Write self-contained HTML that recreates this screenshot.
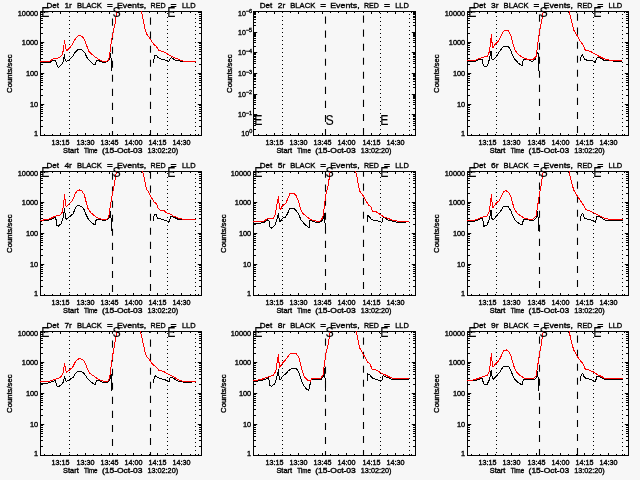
<!DOCTYPE html>
<html><head><meta charset="utf-8"><title>Detector count rates</title>
<style>html,body{margin:0;padding:0;background:#f7f7f7;overflow:hidden}svg{display:block}text{fill:#000}</style>
</head><body>
<svg width="640" height="480" viewBox="0 0 640 480">
<rect width="640" height="480" fill="#f7f7f7"/>
<g>
<rect x="40.5" y="11.5" width="161" height="124" fill="none" stroke="#000" stroke-width="1"/>
<path d="M44.5 135.5v-1.5M44.5 11.5v1.5M52.5 135.5v-1.5M52.5 11.5v1.5M60.5 135.5v-2.5M60.5 11.5v2.5M69.5 135.5v-1.5M69.5 11.5v1.5M77.5 135.5v-1.5M77.5 11.5v1.5M85.5 135.5v-2.5M85.5 11.5v2.5M93.5 135.5v-1.5M93.5 11.5v1.5M101.5 135.5v-1.5M101.5 11.5v1.5M109.5 135.5v-2.5M109.5 11.5v2.5M117.5 135.5v-1.5M117.5 11.5v1.5M125.5 135.5v-1.5M125.5 11.5v1.5M133.5 135.5v-2.5M133.5 11.5v2.5M141.5 135.5v-1.5M141.5 11.5v1.5M149.5 135.5v-1.5M149.5 11.5v1.5M157.5 135.5v-2.5M157.5 11.5v2.5M165.5 135.5v-1.5M165.5 11.5v1.5M173.5 135.5v-1.5M173.5 11.5v1.5M181.5 135.5v-2.5M181.5 11.5v2.5M190.5 135.5v-1.5M190.5 11.5v1.5M198.5 135.5v-1.5M198.5 11.5v1.5M40.5 33.5h2.5M201.5 33.5h-2.5M40.5 27.5h2.5M201.5 27.5h-2.5M40.5 23.5h2.5M201.5 23.5h-2.5M40.5 20.5h2.5M201.5 20.5h-2.5M40.5 18.5h2.5M201.5 18.5h-2.5M40.5 16.5h2.5M201.5 16.5h-2.5M40.5 14.5h2.5M201.5 14.5h-2.5M40.5 12.5h2.5M201.5 12.5h-2.5M40.5 42.5h3.7M201.5 42.5h-3.7M40.5 64.5h2.5M201.5 64.5h-2.5M40.5 58.5h2.5M201.5 58.5h-2.5M40.5 54.5h2.5M201.5 54.5h-2.5M40.5 51.5h2.5M201.5 51.5h-2.5M40.5 49.5h2.5M201.5 49.5h-2.5M40.5 47.5h2.5M201.5 47.5h-2.5M40.5 45.5h2.5M201.5 45.5h-2.5M40.5 43.5h2.5M201.5 43.5h-2.5M40.5 73.5h3.7M201.5 73.5h-3.7M40.5 95.5h2.5M201.5 95.5h-2.5M40.5 89.5h2.5M201.5 89.5h-2.5M40.5 85.5h2.5M201.5 85.5h-2.5M40.5 82.5h2.5M201.5 82.5h-2.5M40.5 80.5h2.5M201.5 80.5h-2.5M40.5 78.5h2.5M201.5 78.5h-2.5M40.5 76.5h2.5M201.5 76.5h-2.5M40.5 74.5h2.5M201.5 74.5h-2.5M40.5 104.5h3.7M201.5 104.5h-3.7M40.5 126.5h2.5M201.5 126.5h-2.5M40.5 120.5h2.5M201.5 120.5h-2.5M40.5 116.5h2.5M201.5 116.5h-2.5M40.5 113.5h2.5M201.5 113.5h-2.5M40.5 111.5h2.5M201.5 111.5h-2.5M40.5 109.5h2.5M201.5 109.5h-2.5M40.5 107.5h2.5M201.5 107.5h-2.5M40.5 105.5h2.5M201.5 105.5h-2.5" stroke="#000" stroke-width="1" fill="none"/>
<line x1="112.5" y1="135.5" x2="112.5" y2="11.5" stroke="#000" stroke-width="1.1" stroke-dasharray="7.1 6.95" stroke-dashoffset="2.55"/>
<line x1="150.5" y1="135.5" x2="150.5" y2="11.5" stroke="#000" stroke-width="1.1" stroke-dasharray="7.1 6.95" stroke-dashoffset="1.55"/>
<line x1="69.5" y1="135.5" x2="69.5" y2="11.5" stroke="#000" stroke-width="1" stroke-dasharray="1 3" stroke-dashoffset="1.5"/>
<line x1="167.5" y1="135.5" x2="167.5" y2="11.5" stroke="#000" stroke-width="1" stroke-dasharray="1 3" stroke-dashoffset="2.5"/>
<line x1="195.5" y1="135.5" x2="195.5" y2="11.5" stroke="#000" stroke-width="1" stroke-dasharray="1 3" stroke-dashoffset="3.5"/>
<polyline points="40,62.75 50,62.5 52.5,60.6 55.6,60 56.25,62.5 57.5,66.9 58.75,67.5 61.25,65 63.1,61.9 64.4,54.4 65,59.4 66.25,61.25 68.75,60 71.9,57.5 75,52.5 77.5,50 80,49.4 82.5,50.25 85,53.1 86.9,57.5 89.4,60.6 92.5,63.5 95,65 96.25,61.25 98.1,60 100,61.5 102.5,62.25 107.5,61.9 109.4,59.4 110.6,53.75 111.25,60 111.5,71" fill="none" stroke="#000" stroke-width="1" stroke-linejoin="round" shape-rendering="crispEdges"/>
<polyline points="153.1,62.5 154,58.75 154.75,55.25 156.25,55.25 158.1,57.5 161.25,59 166.25,60.4 168.75,61.5 170,58.75 171.5,57.25 173.1,58.75 175,60 179.4,60.25 181.9,61.9 195.6,61.9" fill="none" stroke="#000" stroke-width="1" stroke-linejoin="round" shape-rendering="crispEdges"/>
<polyline points="40,61.25 50,61.25 52.5,59.4 53.75,58.1 56.25,58.75 60,57.25 62.5,54.4 63.75,47.5 64.4,40 65,43.75 66.25,50.6 67.5,50 70,47.5 72.5,44.4 75,39.4 77.5,36.25 80,35.25 82.5,36.9 85,40.6 86.9,46.25 88.75,51.25 91.25,53.75 95,56.9 98.75,59.4 102.5,61.25 106.25,61.5 108.75,60 110,52.5 111.25,42.5 113.1,32.5 115,23.75 116.5,13.75 117.25,11.25" fill="none" stroke="#f00" stroke-width="1" stroke-linejoin="round" shape-rendering="crispEdges"/>
<polyline points="141.25,11.25 142.5,16.25 143.75,22.5 145,28.75 146.9,34.4 148.75,36.9 151.25,40.6 153.75,44.4 156.25,46.25 158.75,50.25 163.75,51.9 167.5,54 171.25,56.25 175,58.1 178.75,59.4 182.5,61 195.6,61.25" fill="none" stroke="#f00" stroke-width="1" stroke-linejoin="round" shape-rendering="crispEdges"/>
<text x="41.2" y="16.65" font-family="Liberation Sans, Arial, sans-serif" font-size="14.6" textLength="8.2" lengthAdjust="spacingAndGlyphs" fill="#000" stroke="#000" stroke-width="0.1">E</text>
<text x="112.5" y="16.65" font-family="Liberation Sans, Arial, sans-serif" font-size="14.6" textLength="8.2" lengthAdjust="spacingAndGlyphs" fill="#000" stroke="#000" stroke-width="0.1">S</text>
<text x="167.2" y="16.65" font-family="Liberation Sans, Arial, sans-serif" font-size="14.6" textLength="8.2" lengthAdjust="spacingAndGlyphs" fill="#000" stroke="#000" stroke-width="0.1">E</text>
<text y="7.6" font-family="Liberation Sans, Arial, sans-serif" font-size="8.1" stroke="#000" stroke-width="0.35"><tspan x="46.5" textLength="12.5" lengthAdjust="spacingAndGlyphs">Det</tspan> <tspan x="64.4" textLength="7.5" lengthAdjust="spacingAndGlyphs">1r</tspan> <tspan x="76.9" textLength="25" lengthAdjust="spacingAndGlyphs">BLACK</tspan> <tspan x="106.9" textLength="5.8" lengthAdjust="spacingAndGlyphs">=</tspan> <tspan x="116.9" textLength="29.4" lengthAdjust="spacingAndGlyphs">Events,</tspan> <tspan x="150.6" textLength="15" lengthAdjust="spacingAndGlyphs">RED</tspan> <tspan x="170.6" textLength="6.1" lengthAdjust="spacingAndGlyphs">=</tspan> <tspan x="181.9" textLength="13.7" lengthAdjust="spacingAndGlyphs">LLD</tspan></text>
<text x="60.5" y="145" font-family="Liberation Sans, Arial, sans-serif" font-size="7" text-anchor="middle" textLength="18" lengthAdjust="spacingAndGlyphs" stroke="#000" stroke-width="0.35">13:15</text>
<text x="85.5" y="145" font-family="Liberation Sans, Arial, sans-serif" font-size="7" text-anchor="middle" textLength="18" lengthAdjust="spacingAndGlyphs" stroke="#000" stroke-width="0.35">13:30</text>
<text x="109.5" y="145" font-family="Liberation Sans, Arial, sans-serif" font-size="7" text-anchor="middle" textLength="18" lengthAdjust="spacingAndGlyphs" stroke="#000" stroke-width="0.35">13:45</text>
<text x="133.5" y="145" font-family="Liberation Sans, Arial, sans-serif" font-size="7" text-anchor="middle" textLength="18" lengthAdjust="spacingAndGlyphs" stroke="#000" stroke-width="0.35">14:00</text>
<text x="157.5" y="145" font-family="Liberation Sans, Arial, sans-serif" font-size="7" text-anchor="middle" textLength="18" lengthAdjust="spacingAndGlyphs" stroke="#000" stroke-width="0.35">14:15</text>
<text x="181.5" y="145" font-family="Liberation Sans, Arial, sans-serif" font-size="7" text-anchor="middle" textLength="18" lengthAdjust="spacingAndGlyphs" stroke="#000" stroke-width="0.35">14:30</text>
<text y="152.8" font-family="Liberation Sans, Arial, sans-serif" font-size="7" stroke="#000" stroke-width="0.35"><tspan x="63.1" textLength="15.6" lengthAdjust="spacingAndGlyphs">Start</tspan> <tspan x="84" textLength="13.5" lengthAdjust="spacingAndGlyphs">Time</tspan> <tspan x="101.9" textLength="40.6" lengthAdjust="spacingAndGlyphs">(15-Oct-03</tspan> <tspan x="147.5" textLength="30.6" lengthAdjust="spacingAndGlyphs">13:02:20)</tspan></text>
<text x="38.2" y="16.1" font-family="Liberation Sans, Arial, sans-serif" font-size="7" text-anchor="end" textLength="20.5" lengthAdjust="spacingAndGlyphs" stroke="#000" stroke-width="0.35">10000</text>
<text x="38.2" y="44.9" font-family="Liberation Sans, Arial, sans-serif" font-size="7" text-anchor="end" textLength="16.4" lengthAdjust="spacingAndGlyphs" stroke="#000" stroke-width="0.35">1000</text>
<text x="38.2" y="75.9" font-family="Liberation Sans, Arial, sans-serif" font-size="7" text-anchor="end" textLength="12.3" lengthAdjust="spacingAndGlyphs" stroke="#000" stroke-width="0.35">100</text>
<text x="38.2" y="106.9" font-family="Liberation Sans, Arial, sans-serif" font-size="7" text-anchor="end" textLength="8.2" lengthAdjust="spacingAndGlyphs" stroke="#000" stroke-width="0.35">10</text>
<text x="38.2" y="136" font-family="Liberation Sans, Arial, sans-serif" font-size="7" text-anchor="end" textLength="4.1" lengthAdjust="spacingAndGlyphs" stroke="#000" stroke-width="0.35">1</text>
<text transform="translate(12.4 73.7) rotate(-90)" font-family="Liberation Sans, Arial, sans-serif" font-size="7" text-anchor="middle" textLength="38.4" lengthAdjust="spacingAndGlyphs" stroke="#000" stroke-width="0.35">Counts/sec</text>
</g>
<g>
<rect x="253.5" y="11.5" width="162" height="124" fill="none" stroke="#000" stroke-width="1"/>
<path d="M258.5 135.5v-1.5M258.5 11.5v1.5M266.5 135.5v-1.5M266.5 11.5v1.5M274.5 135.5v-2.5M274.5 11.5v2.5M282.5 135.5v-1.5M282.5 11.5v1.5M290.5 135.5v-1.5M290.5 11.5v1.5M298.5 135.5v-2.5M298.5 11.5v2.5M306.5 135.5v-1.5M306.5 11.5v1.5M314.5 135.5v-1.5M314.5 11.5v1.5M322.5 135.5v-2.5M322.5 11.5v2.5M330.5 135.5v-1.5M330.5 11.5v1.5M338.5 135.5v-1.5M338.5 11.5v1.5M346.5 135.5v-2.5M346.5 11.5v2.5M354.5 135.5v-1.5M354.5 11.5v1.5M363.5 135.5v-1.5M363.5 11.5v1.5M371.5 135.5v-2.5M371.5 11.5v2.5M379.5 135.5v-1.5M379.5 11.5v1.5M387.5 135.5v-1.5M387.5 11.5v1.5M395.5 135.5v-2.5M395.5 11.5v2.5M403.5 135.5v-1.5M403.5 11.5v1.5M411.5 135.5v-1.5M411.5 11.5v1.5M253.5 25.5h2.5M415.5 25.5h-2.5M253.5 22.5h2.5M415.5 22.5h-2.5M253.5 19.5h2.5M415.5 19.5h-2.5M253.5 17.5h2.5M415.5 17.5h-2.5M253.5 16.5h2.5M415.5 16.5h-2.5M253.5 14.5h2.5M415.5 14.5h-2.5M253.5 13.5h2.5M415.5 13.5h-2.5M253.5 12.5h2.5M415.5 12.5h-2.5M253.5 32.5h3.7M415.5 32.5h-3.7M253.5 46.5h2.5M415.5 46.5h-2.5M253.5 42.5h2.5M415.5 42.5h-2.5M253.5 40.5h2.5M415.5 40.5h-2.5M253.5 38.5h2.5M415.5 38.5h-2.5M253.5 36.5h2.5M415.5 36.5h-2.5M253.5 35.5h2.5M415.5 35.5h-2.5M253.5 34.5h2.5M415.5 34.5h-2.5M253.5 33.5h2.5M415.5 33.5h-2.5M253.5 52.5h3.7M415.5 52.5h-3.7M253.5 67.5h2.5M415.5 67.5h-2.5M253.5 63.5h2.5M415.5 63.5h-2.5M253.5 61.5h2.5M415.5 61.5h-2.5M253.5 59.5h2.5M415.5 59.5h-2.5M253.5 57.5h2.5M415.5 57.5h-2.5M253.5 56.5h2.5M415.5 56.5h-2.5M253.5 54.5h2.5M415.5 54.5h-2.5M253.5 53.5h2.5M415.5 53.5h-2.5M253.5 73.5h3.7M415.5 73.5h-3.7M253.5 87.5h2.5M415.5 87.5h-2.5M253.5 84.5h2.5M415.5 84.5h-2.5M253.5 81.5h2.5M415.5 81.5h-2.5M253.5 79.5h2.5M415.5 79.5h-2.5M253.5 78.5h2.5M415.5 78.5h-2.5M253.5 76.5h2.5M415.5 76.5h-2.5M253.5 75.5h2.5M415.5 75.5h-2.5M253.5 74.5h2.5M415.5 74.5h-2.5M253.5 94.5h3.7M415.5 94.5h-3.7M253.5 108.5h2.5M415.5 108.5h-2.5M253.5 104.5h2.5M415.5 104.5h-2.5M253.5 102.5h2.5M415.5 102.5h-2.5M253.5 100.5h2.5M415.5 100.5h-2.5M253.5 98.5h2.5M415.5 98.5h-2.5M253.5 97.5h2.5M415.5 97.5h-2.5M253.5 96.5h2.5M415.5 96.5h-2.5M253.5 95.5h2.5M415.5 95.5h-2.5M253.5 114.5h3.7M415.5 114.5h-3.7M253.5 129.5h2.5M415.5 129.5h-2.5M253.5 125.5h2.5M415.5 125.5h-2.5M253.5 123.5h2.5M415.5 123.5h-2.5M253.5 121.5h2.5M415.5 121.5h-2.5M253.5 119.5h2.5M415.5 119.5h-2.5M253.5 118.5h2.5M415.5 118.5h-2.5M253.5 116.5h2.5M415.5 116.5h-2.5M253.5 115.5h2.5M415.5 115.5h-2.5" stroke="#000" stroke-width="1" fill="none"/>
<line x1="325.5" y1="135.5" x2="325.5" y2="11.5" stroke="#000" stroke-width="1.1" stroke-dasharray="7.1 6.95" stroke-dashoffset="0.55"/>
<line x1="363.5" y1="135.5" x2="363.5" y2="11.5" stroke="#000" stroke-width="1.1" stroke-dasharray="7.1 6.95" stroke-dashoffset="13.6"/>
<line x1="282.5" y1="135.5" x2="282.5" y2="11.5" stroke="#000" stroke-width="1" stroke-dasharray="1 3" stroke-dashoffset="1.5"/>
<line x1="380.5" y1="135.5" x2="380.5" y2="11.5" stroke="#000" stroke-width="1" stroke-dasharray="1 3" stroke-dashoffset="2.5"/>
<line x1="409.5" y1="135.5" x2="409.5" y2="11.5" stroke="#000" stroke-width="1" stroke-dasharray="1 3" stroke-dashoffset="3.5"/>
<text x="254.2" y="124.65" font-family="Liberation Sans, Arial, sans-serif" font-size="14.6" textLength="8.2" lengthAdjust="spacingAndGlyphs" fill="#000" stroke="#000" stroke-width="0.1">E</text>
<text x="325.5" y="124.65" font-family="Liberation Sans, Arial, sans-serif" font-size="14.6" textLength="8.2" lengthAdjust="spacingAndGlyphs" fill="#000" stroke="#000" stroke-width="0.1">S</text>
<text x="380.2" y="124.65" font-family="Liberation Sans, Arial, sans-serif" font-size="14.6" textLength="8.2" lengthAdjust="spacingAndGlyphs" fill="#000" stroke="#000" stroke-width="0.1">E</text>
<text y="7.6" font-family="Liberation Sans, Arial, sans-serif" font-size="8.1" stroke="#000" stroke-width="0.35"><tspan x="259.83" textLength="12.5" lengthAdjust="spacingAndGlyphs">Det</tspan> <tspan x="277.73" textLength="7.5" lengthAdjust="spacingAndGlyphs">2r</tspan> <tspan x="290.23" textLength="25" lengthAdjust="spacingAndGlyphs">BLACK</tspan> <tspan x="320.23" textLength="5.8" lengthAdjust="spacingAndGlyphs">=</tspan> <tspan x="330.23" textLength="29.4" lengthAdjust="spacingAndGlyphs">Events,</tspan> <tspan x="363.93" textLength="15" lengthAdjust="spacingAndGlyphs">RED</tspan> <tspan x="383.93" textLength="6.1" lengthAdjust="spacingAndGlyphs">=</tspan> <tspan x="395.23" textLength="13.7" lengthAdjust="spacingAndGlyphs">LLD</tspan></text>
<text x="274.5" y="145" font-family="Liberation Sans, Arial, sans-serif" font-size="7" text-anchor="middle" textLength="18" lengthAdjust="spacingAndGlyphs" stroke="#000" stroke-width="0.35">13:15</text>
<text x="298.5" y="145" font-family="Liberation Sans, Arial, sans-serif" font-size="7" text-anchor="middle" textLength="18" lengthAdjust="spacingAndGlyphs" stroke="#000" stroke-width="0.35">13:30</text>
<text x="322.5" y="145" font-family="Liberation Sans, Arial, sans-serif" font-size="7" text-anchor="middle" textLength="18" lengthAdjust="spacingAndGlyphs" stroke="#000" stroke-width="0.35">13:45</text>
<text x="346.5" y="145" font-family="Liberation Sans, Arial, sans-serif" font-size="7" text-anchor="middle" textLength="18" lengthAdjust="spacingAndGlyphs" stroke="#000" stroke-width="0.35">14:00</text>
<text x="371.5" y="145" font-family="Liberation Sans, Arial, sans-serif" font-size="7" text-anchor="middle" textLength="18" lengthAdjust="spacingAndGlyphs" stroke="#000" stroke-width="0.35">14:15</text>
<text x="395.5" y="145" font-family="Liberation Sans, Arial, sans-serif" font-size="7" text-anchor="middle" textLength="18" lengthAdjust="spacingAndGlyphs" stroke="#000" stroke-width="0.35">14:30</text>
<text y="152.8" font-family="Liberation Sans, Arial, sans-serif" font-size="7" stroke="#000" stroke-width="0.35"><tspan x="276.43" textLength="15.6" lengthAdjust="spacingAndGlyphs">Start</tspan> <tspan x="297.33" textLength="13.5" lengthAdjust="spacingAndGlyphs">Time</tspan> <tspan x="315.23" textLength="40.6" lengthAdjust="spacingAndGlyphs">(15-Oct-03</tspan> <tspan x="360.83" textLength="30.6" lengthAdjust="spacingAndGlyphs">13:02:20)</tspan></text>
<text x="252.2" y="15.9" font-family="Liberation Sans, Arial, sans-serif" font-size="7" text-anchor="end" stroke="#000" stroke-width="0.35">10<tspan dy="-2.6" font-size="5.5">−6</tspan></text>
<text x="252.2" y="34.77" font-family="Liberation Sans, Arial, sans-serif" font-size="7" text-anchor="end" stroke="#000" stroke-width="0.35">10<tspan dy="-2.6" font-size="5.5">−5</tspan></text>
<text x="252.2" y="55.43" font-family="Liberation Sans, Arial, sans-serif" font-size="7" text-anchor="end" stroke="#000" stroke-width="0.35">10<tspan dy="-2.6" font-size="5.5">−4</tspan></text>
<text x="252.2" y="76.1" font-family="Liberation Sans, Arial, sans-serif" font-size="7" text-anchor="end" stroke="#000" stroke-width="0.35">10<tspan dy="-2.6" font-size="5.5">−3</tspan></text>
<text x="252.2" y="96.77" font-family="Liberation Sans, Arial, sans-serif" font-size="7" text-anchor="end" stroke="#000" stroke-width="0.35">10<tspan dy="-2.6" font-size="5.5">−2</tspan></text>
<text x="252.2" y="117.43" font-family="Liberation Sans, Arial, sans-serif" font-size="7" text-anchor="end" stroke="#000" stroke-width="0.35">10<tspan dy="-2.6" font-size="5.5">−1</tspan></text>
<text x="252.2" y="136" font-family="Liberation Sans, Arial, sans-serif" font-size="7" text-anchor="end" stroke="#000" stroke-width="0.35">10<tspan dy="-2.6" font-size="5.5">0</tspan></text>
<text transform="translate(232.43 73.7) rotate(-90)" font-family="Liberation Sans, Arial, sans-serif" font-size="7" text-anchor="middle" textLength="38.4" lengthAdjust="spacingAndGlyphs" stroke="#000" stroke-width="0.35">Counts/sec</text>
</g>
<g>
<rect x="467.5" y="11.5" width="161" height="124" fill="none" stroke="#000" stroke-width="1"/>
<path d="M471.5 135.5v-1.5M471.5 11.5v1.5M479.5 135.5v-1.5M479.5 11.5v1.5M487.5 135.5v-2.5M487.5 11.5v2.5M495.5 135.5v-1.5M495.5 11.5v1.5M503.5 135.5v-1.5M503.5 11.5v1.5M511.5 135.5v-2.5M511.5 11.5v2.5M519.5 135.5v-1.5M519.5 11.5v1.5M527.5 135.5v-1.5M527.5 11.5v1.5M536.5 135.5v-2.5M536.5 11.5v2.5M544.5 135.5v-1.5M544.5 11.5v1.5M552.5 135.5v-1.5M552.5 11.5v1.5M560.5 135.5v-2.5M560.5 11.5v2.5M568.5 135.5v-1.5M568.5 11.5v1.5M576.5 135.5v-1.5M576.5 11.5v1.5M584.5 135.5v-2.5M584.5 11.5v2.5M592.5 135.5v-1.5M592.5 11.5v1.5M600.5 135.5v-1.5M600.5 11.5v1.5M608.5 135.5v-2.5M608.5 11.5v2.5M616.5 135.5v-1.5M616.5 11.5v1.5M624.5 135.5v-1.5M624.5 11.5v1.5M467.5 33.5h2.5M628.5 33.5h-2.5M467.5 27.5h2.5M628.5 27.5h-2.5M467.5 23.5h2.5M628.5 23.5h-2.5M467.5 20.5h2.5M628.5 20.5h-2.5M467.5 18.5h2.5M628.5 18.5h-2.5M467.5 16.5h2.5M628.5 16.5h-2.5M467.5 14.5h2.5M628.5 14.5h-2.5M467.5 12.5h2.5M628.5 12.5h-2.5M467.5 42.5h3.7M628.5 42.5h-3.7M467.5 64.5h2.5M628.5 64.5h-2.5M467.5 58.5h2.5M628.5 58.5h-2.5M467.5 54.5h2.5M628.5 54.5h-2.5M467.5 51.5h2.5M628.5 51.5h-2.5M467.5 49.5h2.5M628.5 49.5h-2.5M467.5 47.5h2.5M628.5 47.5h-2.5M467.5 45.5h2.5M628.5 45.5h-2.5M467.5 43.5h2.5M628.5 43.5h-2.5M467.5 73.5h3.7M628.5 73.5h-3.7M467.5 95.5h2.5M628.5 95.5h-2.5M467.5 89.5h2.5M628.5 89.5h-2.5M467.5 85.5h2.5M628.5 85.5h-2.5M467.5 82.5h2.5M628.5 82.5h-2.5M467.5 80.5h2.5M628.5 80.5h-2.5M467.5 78.5h2.5M628.5 78.5h-2.5M467.5 76.5h2.5M628.5 76.5h-2.5M467.5 74.5h2.5M628.5 74.5h-2.5M467.5 104.5h3.7M628.5 104.5h-3.7M467.5 126.5h2.5M628.5 126.5h-2.5M467.5 120.5h2.5M628.5 120.5h-2.5M467.5 116.5h2.5M628.5 116.5h-2.5M467.5 113.5h2.5M628.5 113.5h-2.5M467.5 111.5h2.5M628.5 111.5h-2.5M467.5 109.5h2.5M628.5 109.5h-2.5M467.5 107.5h2.5M628.5 107.5h-2.5M467.5 105.5h2.5M628.5 105.5h-2.5" stroke="#000" stroke-width="1" fill="none"/>
<line x1="539.5" y1="135.5" x2="539.5" y2="11.5" stroke="#000" stroke-width="1.1" stroke-dasharray="7.1 6.95" stroke-dashoffset="12.6"/>
<line x1="577.5" y1="135.5" x2="577.5" y2="11.5" stroke="#000" stroke-width="1.1" stroke-dasharray="7.1 6.95" stroke-dashoffset="11.6"/>
<line x1="496.5" y1="135.5" x2="496.5" y2="11.5" stroke="#000" stroke-width="1" stroke-dasharray="1 3" stroke-dashoffset="1.5"/>
<line x1="593.5" y1="135.5" x2="593.5" y2="11.5" stroke="#000" stroke-width="1" stroke-dasharray="1 3" stroke-dashoffset="2.5"/>
<line x1="622.5" y1="135.5" x2="622.5" y2="11.5" stroke="#000" stroke-width="1" stroke-dasharray="1 3" stroke-dashoffset="3.5"/>
<polyline points="467,61.5 475.75,61.25 478.25,59.75 482,59.4 483,63.75 484.5,66.9 487.6,65.6 489.5,58.75 491,51.25 492,58.75 493.25,60 497,55.6 500.1,50.6 503.25,46.5 508.25,46.25 510.75,50 512.6,55.6 514.5,58.75 518.25,63.1 522,65.6 523.25,60 527,59.4 529.5,60 532,61.5 535.1,59.4 537,54.4 538,52.5 538.5,60 538.9,71" fill="none" stroke="#000" stroke-width="1" stroke-linejoin="round" shape-rendering="crispEdges"/>
<polyline points="580.25,61.25 581.25,55.6 582.5,54.75 584.6,59.4 587.75,60.4 592.75,61 595.25,62.5 596.5,58.1 598.4,57.25 601.5,58.75 604,60.25 611.5,60.6 614,61.25 622.1,61.25" fill="none" stroke="#000" stroke-width="1" stroke-linejoin="round" shape-rendering="crispEdges"/>
<polyline points="467,60.6 474.5,60.6 478.25,59 483.25,57.25 487.6,56.25 489.5,51.25 490.5,42.5 491.4,34.4 492,42.5 493,47.5 495.1,44.4 498.25,41.25 500.75,36.9 503.25,31.25 505.75,30 508.25,30.6 510.75,35 512.6,42.5 514.5,48.75 517,53.1 520.75,56.25 524.5,58.5 529.5,59.75 533.25,59.4 536.4,56.25 537.6,45 539.5,31.25 541.4,22.5 542.6,15 543.5,11.25" fill="none" stroke="#f00" stroke-width="1" stroke-linejoin="round" shape-rendering="crispEdges"/>
<polyline points="569,11.25 570.25,16.25 572.1,23.75 574,30.6 577.1,35.6 580.25,41.25 582.75,44.4 585.25,50 590.25,51.25 594,53.5 599,56.25 604,58.75 609,60 622.1,60.6" fill="none" stroke="#f00" stroke-width="1" stroke-linejoin="round" shape-rendering="crispEdges"/>
<text x="468.2" y="16.65" font-family="Liberation Sans, Arial, sans-serif" font-size="14.6" textLength="8.2" lengthAdjust="spacingAndGlyphs" fill="#000" stroke="#000" stroke-width="0.1">E</text>
<text x="539.5" y="16.65" font-family="Liberation Sans, Arial, sans-serif" font-size="14.6" textLength="8.2" lengthAdjust="spacingAndGlyphs" fill="#000" stroke="#000" stroke-width="0.1">S</text>
<text x="593.2" y="16.65" font-family="Liberation Sans, Arial, sans-serif" font-size="14.6" textLength="8.2" lengthAdjust="spacingAndGlyphs" fill="#000" stroke="#000" stroke-width="0.1">E</text>
<text y="7.6" font-family="Liberation Sans, Arial, sans-serif" font-size="8.1" stroke="#000" stroke-width="0.35"><tspan x="473.17" textLength="12.5" lengthAdjust="spacingAndGlyphs">Det</tspan> <tspan x="491.07" textLength="7.5" lengthAdjust="spacingAndGlyphs">3r</tspan> <tspan x="503.57" textLength="25" lengthAdjust="spacingAndGlyphs">BLACK</tspan> <tspan x="533.57" textLength="5.8" lengthAdjust="spacingAndGlyphs">=</tspan> <tspan x="543.57" textLength="29.4" lengthAdjust="spacingAndGlyphs">Events,</tspan> <tspan x="577.27" textLength="15" lengthAdjust="spacingAndGlyphs">RED</tspan> <tspan x="597.27" textLength="6.1" lengthAdjust="spacingAndGlyphs">=</tspan> <tspan x="608.57" textLength="13.7" lengthAdjust="spacingAndGlyphs">LLD</tspan></text>
<text x="487.5" y="145" font-family="Liberation Sans, Arial, sans-serif" font-size="7" text-anchor="middle" textLength="18" lengthAdjust="spacingAndGlyphs" stroke="#000" stroke-width="0.35">13:15</text>
<text x="511.5" y="145" font-family="Liberation Sans, Arial, sans-serif" font-size="7" text-anchor="middle" textLength="18" lengthAdjust="spacingAndGlyphs" stroke="#000" stroke-width="0.35">13:30</text>
<text x="536.5" y="145" font-family="Liberation Sans, Arial, sans-serif" font-size="7" text-anchor="middle" textLength="18" lengthAdjust="spacingAndGlyphs" stroke="#000" stroke-width="0.35">13:45</text>
<text x="560.5" y="145" font-family="Liberation Sans, Arial, sans-serif" font-size="7" text-anchor="middle" textLength="18" lengthAdjust="spacingAndGlyphs" stroke="#000" stroke-width="0.35">14:00</text>
<text x="584.5" y="145" font-family="Liberation Sans, Arial, sans-serif" font-size="7" text-anchor="middle" textLength="18" lengthAdjust="spacingAndGlyphs" stroke="#000" stroke-width="0.35">14:15</text>
<text x="608.5" y="145" font-family="Liberation Sans, Arial, sans-serif" font-size="7" text-anchor="middle" textLength="18" lengthAdjust="spacingAndGlyphs" stroke="#000" stroke-width="0.35">14:30</text>
<text y="152.8" font-family="Liberation Sans, Arial, sans-serif" font-size="7" stroke="#000" stroke-width="0.35"><tspan x="489.77" textLength="15.6" lengthAdjust="spacingAndGlyphs">Start</tspan> <tspan x="510.67" textLength="13.5" lengthAdjust="spacingAndGlyphs">Time</tspan> <tspan x="528.57" textLength="40.6" lengthAdjust="spacingAndGlyphs">(15-Oct-03</tspan> <tspan x="574.17" textLength="30.6" lengthAdjust="spacingAndGlyphs">13:02:20)</tspan></text>
<text x="465.2" y="16.1" font-family="Liberation Sans, Arial, sans-serif" font-size="7" text-anchor="end" textLength="20.5" lengthAdjust="spacingAndGlyphs" stroke="#000" stroke-width="0.35">10000</text>
<text x="465.2" y="44.9" font-family="Liberation Sans, Arial, sans-serif" font-size="7" text-anchor="end" textLength="16.4" lengthAdjust="spacingAndGlyphs" stroke="#000" stroke-width="0.35">1000</text>
<text x="465.2" y="75.9" font-family="Liberation Sans, Arial, sans-serif" font-size="7" text-anchor="end" textLength="12.3" lengthAdjust="spacingAndGlyphs" stroke="#000" stroke-width="0.35">100</text>
<text x="465.2" y="106.9" font-family="Liberation Sans, Arial, sans-serif" font-size="7" text-anchor="end" textLength="8.2" lengthAdjust="spacingAndGlyphs" stroke="#000" stroke-width="0.35">10</text>
<text x="465.2" y="136" font-family="Liberation Sans, Arial, sans-serif" font-size="7" text-anchor="end" textLength="4.1" lengthAdjust="spacingAndGlyphs" stroke="#000" stroke-width="0.35">1</text>
<text transform="translate(439.07 73.7) rotate(-90)" font-family="Liberation Sans, Arial, sans-serif" font-size="7" text-anchor="middle" textLength="38.4" lengthAdjust="spacingAndGlyphs" stroke="#000" stroke-width="0.35">Counts/sec</text>
</g>
<g>
<rect x="40.5" y="171.5" width="161" height="124" fill="none" stroke="#000" stroke-width="1"/>
<path d="M44.5 295.5v-1.5M44.5 171.5v1.5M52.5 295.5v-1.5M52.5 171.5v1.5M60.5 295.5v-2.5M60.5 171.5v2.5M69.5 295.5v-1.5M69.5 171.5v1.5M77.5 295.5v-1.5M77.5 171.5v1.5M85.5 295.5v-2.5M85.5 171.5v2.5M93.5 295.5v-1.5M93.5 171.5v1.5M101.5 295.5v-1.5M101.5 171.5v1.5M109.5 295.5v-2.5M109.5 171.5v2.5M117.5 295.5v-1.5M117.5 171.5v1.5M125.5 295.5v-1.5M125.5 171.5v1.5M133.5 295.5v-2.5M133.5 171.5v2.5M141.5 295.5v-1.5M141.5 171.5v1.5M149.5 295.5v-1.5M149.5 171.5v1.5M157.5 295.5v-2.5M157.5 171.5v2.5M165.5 295.5v-1.5M165.5 171.5v1.5M173.5 295.5v-1.5M173.5 171.5v1.5M181.5 295.5v-2.5M181.5 171.5v2.5M190.5 295.5v-1.5M190.5 171.5v1.5M198.5 295.5v-1.5M198.5 171.5v1.5M40.5 193.5h2.5M201.5 193.5h-2.5M40.5 187.5h2.5M201.5 187.5h-2.5M40.5 183.5h2.5M201.5 183.5h-2.5M40.5 180.5h2.5M201.5 180.5h-2.5M40.5 178.5h2.5M201.5 178.5h-2.5M40.5 176.5h2.5M201.5 176.5h-2.5M40.5 174.5h2.5M201.5 174.5h-2.5M40.5 172.5h2.5M201.5 172.5h-2.5M40.5 202.5h3.7M201.5 202.5h-3.7M40.5 224.5h2.5M201.5 224.5h-2.5M40.5 218.5h2.5M201.5 218.5h-2.5M40.5 214.5h2.5M201.5 214.5h-2.5M40.5 211.5h2.5M201.5 211.5h-2.5M40.5 209.5h2.5M201.5 209.5h-2.5M40.5 207.5h2.5M201.5 207.5h-2.5M40.5 205.5h2.5M201.5 205.5h-2.5M40.5 203.5h2.5M201.5 203.5h-2.5M40.5 233.5h3.7M201.5 233.5h-3.7M40.5 255.5h2.5M201.5 255.5h-2.5M40.5 249.5h2.5M201.5 249.5h-2.5M40.5 245.5h2.5M201.5 245.5h-2.5M40.5 242.5h2.5M201.5 242.5h-2.5M40.5 240.5h2.5M201.5 240.5h-2.5M40.5 238.5h2.5M201.5 238.5h-2.5M40.5 236.5h2.5M201.5 236.5h-2.5M40.5 234.5h2.5M201.5 234.5h-2.5M40.5 264.5h3.7M201.5 264.5h-3.7M40.5 286.5h2.5M201.5 286.5h-2.5M40.5 280.5h2.5M201.5 280.5h-2.5M40.5 276.5h2.5M201.5 276.5h-2.5M40.5 273.5h2.5M201.5 273.5h-2.5M40.5 271.5h2.5M201.5 271.5h-2.5M40.5 269.5h2.5M201.5 269.5h-2.5M40.5 267.5h2.5M201.5 267.5h-2.5M40.5 265.5h2.5M201.5 265.5h-2.5" stroke="#000" stroke-width="1" fill="none"/>
<line x1="112.5" y1="295.5" x2="112.5" y2="171.5" stroke="#000" stroke-width="1.1" stroke-dasharray="7.1 6.95" stroke-dashoffset="10.6"/>
<line x1="150.5" y1="295.5" x2="150.5" y2="171.5" stroke="#000" stroke-width="1.1" stroke-dasharray="7.1 6.95" stroke-dashoffset="9.6"/>
<line x1="69.5" y1="295.5" x2="69.5" y2="171.5" stroke="#000" stroke-width="1" stroke-dasharray="1 3" stroke-dashoffset="1.5"/>
<line x1="167.5" y1="295.5" x2="167.5" y2="171.5" stroke="#000" stroke-width="1" stroke-dasharray="1 3" stroke-dashoffset="2.5"/>
<line x1="195.5" y1="295.5" x2="195.5" y2="171.5" stroke="#000" stroke-width="1" stroke-dasharray="1 3" stroke-dashoffset="3.5"/>
<polyline points="40,221.25 45,220.6 50.6,219.75 55,217.25 56,219.4 56.9,225.6 58.1,226.25 61.25,223.75 63.1,217.5 64.6,208.75 65.4,216.25 66.25,219.4 69.4,216.9 73.1,213.75 75.6,207.5 77.5,205.6 81.25,206.25 83.75,208.75 85.6,213.75 88.1,218.75 91.9,223.1 95,225 96.25,219.4 100,219.4 102.5,220.25 106.25,220 108.75,218.75 110.4,211.9 111.25,220 111.9,231" fill="none" stroke="#000" stroke-width="1" stroke-linejoin="round" shape-rendering="crispEdges"/>
<polyline points="153.25,221.25 154.25,215 156,214.4 157.6,218.1 162,219.4 166.4,220.6 168,222.25 169.5,221.25 170.5,216.5 172.6,216.9 175.75,218.1 179.5,220 195.75,219.75" fill="none" stroke="#000" stroke-width="1" stroke-linejoin="round" shape-rendering="crispEdges"/>
<polyline points="40,220.6 45,219.75 50,218.75 55,216.25 60,215 62.5,211.9 63.75,202.5 64.5,194.4 65.25,201.25 66.25,206.9 69.4,203.75 72.5,200.6 75,194.4 76.9,191 79.4,190 81.9,191 84.4,195 86.25,202.5 88.1,208.75 90.6,212.5 95,216.25 98.75,218.5 102.5,219.4 106.25,219.75 108.75,216.9 110.25,206.25 112.5,193.75 114.4,183.75 116,173.75 116.5,171.25" fill="none" stroke="#f00" stroke-width="1" stroke-linejoin="round" shape-rendering="crispEdges"/>
<polyline points="142.6,171.25 143.9,176.25 145.1,182.5 146.4,188.75 148.9,192.5 151.4,197.5 154.5,202.5 156.4,203.5 158.25,208.75 160.75,210.25 163.9,210.6 167,213.1 169.5,213.5 173.25,216 178.25,218.1 182,219 195.75,219" fill="none" stroke="#f00" stroke-width="1" stroke-linejoin="round" shape-rendering="crispEdges"/>
<text x="41.2" y="176.65" font-family="Liberation Sans, Arial, sans-serif" font-size="14.6" textLength="8.2" lengthAdjust="spacingAndGlyphs" fill="#000" stroke="#000" stroke-width="0.1">E</text>
<text x="112.5" y="176.65" font-family="Liberation Sans, Arial, sans-serif" font-size="14.6" textLength="8.2" lengthAdjust="spacingAndGlyphs" fill="#000" stroke="#000" stroke-width="0.1">S</text>
<text x="167.2" y="176.65" font-family="Liberation Sans, Arial, sans-serif" font-size="14.6" textLength="8.2" lengthAdjust="spacingAndGlyphs" fill="#000" stroke="#000" stroke-width="0.1">E</text>
<text y="167.6" font-family="Liberation Sans, Arial, sans-serif" font-size="8.1" stroke="#000" stroke-width="0.35"><tspan x="46.5" textLength="12.5" lengthAdjust="spacingAndGlyphs">Det</tspan> <tspan x="64.4" textLength="7.5" lengthAdjust="spacingAndGlyphs">4r</tspan> <tspan x="76.9" textLength="25" lengthAdjust="spacingAndGlyphs">BLACK</tspan> <tspan x="106.9" textLength="5.8" lengthAdjust="spacingAndGlyphs">=</tspan> <tspan x="116.9" textLength="29.4" lengthAdjust="spacingAndGlyphs">Events,</tspan> <tspan x="150.6" textLength="15" lengthAdjust="spacingAndGlyphs">RED</tspan> <tspan x="170.6" textLength="6.1" lengthAdjust="spacingAndGlyphs">=</tspan> <tspan x="181.9" textLength="13.7" lengthAdjust="spacingAndGlyphs">LLD</tspan></text>
<text x="60.5" y="305" font-family="Liberation Sans, Arial, sans-serif" font-size="7" text-anchor="middle" textLength="18" lengthAdjust="spacingAndGlyphs" stroke="#000" stroke-width="0.35">13:15</text>
<text x="85.5" y="305" font-family="Liberation Sans, Arial, sans-serif" font-size="7" text-anchor="middle" textLength="18" lengthAdjust="spacingAndGlyphs" stroke="#000" stroke-width="0.35">13:30</text>
<text x="109.5" y="305" font-family="Liberation Sans, Arial, sans-serif" font-size="7" text-anchor="middle" textLength="18" lengthAdjust="spacingAndGlyphs" stroke="#000" stroke-width="0.35">13:45</text>
<text x="133.5" y="305" font-family="Liberation Sans, Arial, sans-serif" font-size="7" text-anchor="middle" textLength="18" lengthAdjust="spacingAndGlyphs" stroke="#000" stroke-width="0.35">14:00</text>
<text x="157.5" y="305" font-family="Liberation Sans, Arial, sans-serif" font-size="7" text-anchor="middle" textLength="18" lengthAdjust="spacingAndGlyphs" stroke="#000" stroke-width="0.35">14:15</text>
<text x="181.5" y="305" font-family="Liberation Sans, Arial, sans-serif" font-size="7" text-anchor="middle" textLength="18" lengthAdjust="spacingAndGlyphs" stroke="#000" stroke-width="0.35">14:30</text>
<text y="312.8" font-family="Liberation Sans, Arial, sans-serif" font-size="7" stroke="#000" stroke-width="0.35"><tspan x="63.1" textLength="15.6" lengthAdjust="spacingAndGlyphs">Start</tspan> <tspan x="84" textLength="13.5" lengthAdjust="spacingAndGlyphs">Time</tspan> <tspan x="101.9" textLength="40.6" lengthAdjust="spacingAndGlyphs">(15-Oct-03</tspan> <tspan x="147.5" textLength="30.6" lengthAdjust="spacingAndGlyphs">13:02:20)</tspan></text>
<text x="38.2" y="176.1" font-family="Liberation Sans, Arial, sans-serif" font-size="7" text-anchor="end" textLength="20.5" lengthAdjust="spacingAndGlyphs" stroke="#000" stroke-width="0.35">10000</text>
<text x="38.2" y="204.9" font-family="Liberation Sans, Arial, sans-serif" font-size="7" text-anchor="end" textLength="16.4" lengthAdjust="spacingAndGlyphs" stroke="#000" stroke-width="0.35">1000</text>
<text x="38.2" y="235.9" font-family="Liberation Sans, Arial, sans-serif" font-size="7" text-anchor="end" textLength="12.3" lengthAdjust="spacingAndGlyphs" stroke="#000" stroke-width="0.35">100</text>
<text x="38.2" y="266.9" font-family="Liberation Sans, Arial, sans-serif" font-size="7" text-anchor="end" textLength="8.2" lengthAdjust="spacingAndGlyphs" stroke="#000" stroke-width="0.35">10</text>
<text x="38.2" y="296" font-family="Liberation Sans, Arial, sans-serif" font-size="7" text-anchor="end" textLength="4.1" lengthAdjust="spacingAndGlyphs" stroke="#000" stroke-width="0.35">1</text>
<text transform="translate(12.4 233.7) rotate(-90)" font-family="Liberation Sans, Arial, sans-serif" font-size="7" text-anchor="middle" textLength="38.4" lengthAdjust="spacingAndGlyphs" stroke="#000" stroke-width="0.35">Counts/sec</text>
</g>
<g>
<rect x="253.5" y="171.5" width="162" height="124" fill="none" stroke="#000" stroke-width="1"/>
<path d="M258.5 295.5v-1.5M258.5 171.5v1.5M266.5 295.5v-1.5M266.5 171.5v1.5M274.5 295.5v-2.5M274.5 171.5v2.5M282.5 295.5v-1.5M282.5 171.5v1.5M290.5 295.5v-1.5M290.5 171.5v1.5M298.5 295.5v-2.5M298.5 171.5v2.5M306.5 295.5v-1.5M306.5 171.5v1.5M314.5 295.5v-1.5M314.5 171.5v1.5M322.5 295.5v-2.5M322.5 171.5v2.5M330.5 295.5v-1.5M330.5 171.5v1.5M338.5 295.5v-1.5M338.5 171.5v1.5M346.5 295.5v-2.5M346.5 171.5v2.5M354.5 295.5v-1.5M354.5 171.5v1.5M363.5 295.5v-1.5M363.5 171.5v1.5M371.5 295.5v-2.5M371.5 171.5v2.5M379.5 295.5v-1.5M379.5 171.5v1.5M387.5 295.5v-1.5M387.5 171.5v1.5M395.5 295.5v-2.5M395.5 171.5v2.5M403.5 295.5v-1.5M403.5 171.5v1.5M411.5 295.5v-1.5M411.5 171.5v1.5M253.5 193.5h2.5M415.5 193.5h-2.5M253.5 187.5h2.5M415.5 187.5h-2.5M253.5 183.5h2.5M415.5 183.5h-2.5M253.5 180.5h2.5M415.5 180.5h-2.5M253.5 178.5h2.5M415.5 178.5h-2.5M253.5 176.5h2.5M415.5 176.5h-2.5M253.5 174.5h2.5M415.5 174.5h-2.5M253.5 172.5h2.5M415.5 172.5h-2.5M253.5 202.5h3.7M415.5 202.5h-3.7M253.5 224.5h2.5M415.5 224.5h-2.5M253.5 218.5h2.5M415.5 218.5h-2.5M253.5 214.5h2.5M415.5 214.5h-2.5M253.5 211.5h2.5M415.5 211.5h-2.5M253.5 209.5h2.5M415.5 209.5h-2.5M253.5 207.5h2.5M415.5 207.5h-2.5M253.5 205.5h2.5M415.5 205.5h-2.5M253.5 203.5h2.5M415.5 203.5h-2.5M253.5 233.5h3.7M415.5 233.5h-3.7M253.5 255.5h2.5M415.5 255.5h-2.5M253.5 249.5h2.5M415.5 249.5h-2.5M253.5 245.5h2.5M415.5 245.5h-2.5M253.5 242.5h2.5M415.5 242.5h-2.5M253.5 240.5h2.5M415.5 240.5h-2.5M253.5 238.5h2.5M415.5 238.5h-2.5M253.5 236.5h2.5M415.5 236.5h-2.5M253.5 234.5h2.5M415.5 234.5h-2.5M253.5 264.5h3.7M415.5 264.5h-3.7M253.5 286.5h2.5M415.5 286.5h-2.5M253.5 280.5h2.5M415.5 280.5h-2.5M253.5 276.5h2.5M415.5 276.5h-2.5M253.5 273.5h2.5M415.5 273.5h-2.5M253.5 271.5h2.5M415.5 271.5h-2.5M253.5 269.5h2.5M415.5 269.5h-2.5M253.5 267.5h2.5M415.5 267.5h-2.5M253.5 265.5h2.5M415.5 265.5h-2.5" stroke="#000" stroke-width="1" fill="none"/>
<line x1="325.5" y1="295.5" x2="325.5" y2="171.5" stroke="#000" stroke-width="1.1" stroke-dasharray="7.1 6.95" stroke-dashoffset="8.6"/>
<line x1="363.5" y1="295.5" x2="363.5" y2="171.5" stroke="#000" stroke-width="1.1" stroke-dasharray="7.1 6.95" stroke-dashoffset="7.6"/>
<line x1="282.5" y1="295.5" x2="282.5" y2="171.5" stroke="#000" stroke-width="1" stroke-dasharray="1 3" stroke-dashoffset="1.5"/>
<line x1="380.5" y1="295.5" x2="380.5" y2="171.5" stroke="#000" stroke-width="1" stroke-dasharray="1 3" stroke-dashoffset="2.5"/>
<line x1="409.5" y1="295.5" x2="409.5" y2="171.5" stroke="#000" stroke-width="1" stroke-dasharray="1 3" stroke-dashoffset="3.5"/>
<polyline points="253,223.1 259.25,223.5 264.9,221.9 268,219.75 269,221.25 269.9,226.9 271.75,228.1 274.9,225 277,218.75 278.4,213.1 279.25,220 280.25,221.9 282.4,218.1 285.75,216.9 288,212.5 289.9,208.5 294.25,208.5 296.75,211.25 299,215 301.1,220 304.9,224.4 309,227.75 309.9,220.6 313,221.25 316.75,222.5 321.1,221.9 323,218.75 324.25,213.1 324.9,220 325.25,231" fill="none" stroke="#000" stroke-width="1" stroke-linejoin="round" shape-rendering="crispEdges"/>
<polyline points="367.25,221.9 367.75,215.6 369.4,216.5 371.25,219.75 376.25,220.6 379.4,221.5 381.9,222.5 383.1,217.5 385,218.1 388.1,220 392.5,221.25 397.5,222.25 409.4,221.9" fill="none" stroke="#000" stroke-width="1" stroke-linejoin="round" shape-rendering="crispEdges"/>
<polyline points="253,221.5 259.25,221.9 264.25,221 268,218.1 273.6,218.1 275.5,213.75 277,203.75 278.4,196.9 279.25,205 280.25,210 282.4,205.6 285.75,203.75 288,198.1 289.9,193.5 293.6,193.1 296.1,195.6 298.6,201.25 300.5,208.75 302.4,213.1 305.5,215.6 309.25,218.75 313,220.25 316.75,221.25 320.5,221 322.75,217.5 324.25,207.5 325.75,195 328,186.25 329.5,176.25 330.25,171.25" fill="none" stroke="#f00" stroke-width="1" stroke-linejoin="round" shape-rendering="crispEdges"/>
<polyline points="355.6,171.25 356.9,176.25 358.1,183.75 359.75,191.25 363.1,195.6 365.6,200 368.75,205.6 370.6,206.25 372.25,211 375.6,211.5 379.4,214 383.75,216.9 388.75,218.75 393.75,220.6 398.75,221.25 409.4,221.25" fill="none" stroke="#f00" stroke-width="1" stroke-linejoin="round" shape-rendering="crispEdges"/>
<text x="254.2" y="176.65" font-family="Liberation Sans, Arial, sans-serif" font-size="14.6" textLength="8.2" lengthAdjust="spacingAndGlyphs" fill="#000" stroke="#000" stroke-width="0.1">E</text>
<text x="325.5" y="176.65" font-family="Liberation Sans, Arial, sans-serif" font-size="14.6" textLength="8.2" lengthAdjust="spacingAndGlyphs" fill="#000" stroke="#000" stroke-width="0.1">S</text>
<text x="380.2" y="176.65" font-family="Liberation Sans, Arial, sans-serif" font-size="14.6" textLength="8.2" lengthAdjust="spacingAndGlyphs" fill="#000" stroke="#000" stroke-width="0.1">E</text>
<text y="167.6" font-family="Liberation Sans, Arial, sans-serif" font-size="8.1" stroke="#000" stroke-width="0.35"><tspan x="259.83" textLength="12.5" lengthAdjust="spacingAndGlyphs">Det</tspan> <tspan x="277.73" textLength="7.5" lengthAdjust="spacingAndGlyphs">5r</tspan> <tspan x="290.23" textLength="25" lengthAdjust="spacingAndGlyphs">BLACK</tspan> <tspan x="320.23" textLength="5.8" lengthAdjust="spacingAndGlyphs">=</tspan> <tspan x="330.23" textLength="29.4" lengthAdjust="spacingAndGlyphs">Events,</tspan> <tspan x="363.93" textLength="15" lengthAdjust="spacingAndGlyphs">RED</tspan> <tspan x="383.93" textLength="6.1" lengthAdjust="spacingAndGlyphs">=</tspan> <tspan x="395.23" textLength="13.7" lengthAdjust="spacingAndGlyphs">LLD</tspan></text>
<text x="274.5" y="305" font-family="Liberation Sans, Arial, sans-serif" font-size="7" text-anchor="middle" textLength="18" lengthAdjust="spacingAndGlyphs" stroke="#000" stroke-width="0.35">13:15</text>
<text x="298.5" y="305" font-family="Liberation Sans, Arial, sans-serif" font-size="7" text-anchor="middle" textLength="18" lengthAdjust="spacingAndGlyphs" stroke="#000" stroke-width="0.35">13:30</text>
<text x="322.5" y="305" font-family="Liberation Sans, Arial, sans-serif" font-size="7" text-anchor="middle" textLength="18" lengthAdjust="spacingAndGlyphs" stroke="#000" stroke-width="0.35">13:45</text>
<text x="346.5" y="305" font-family="Liberation Sans, Arial, sans-serif" font-size="7" text-anchor="middle" textLength="18" lengthAdjust="spacingAndGlyphs" stroke="#000" stroke-width="0.35">14:00</text>
<text x="371.5" y="305" font-family="Liberation Sans, Arial, sans-serif" font-size="7" text-anchor="middle" textLength="18" lengthAdjust="spacingAndGlyphs" stroke="#000" stroke-width="0.35">14:15</text>
<text x="395.5" y="305" font-family="Liberation Sans, Arial, sans-serif" font-size="7" text-anchor="middle" textLength="18" lengthAdjust="spacingAndGlyphs" stroke="#000" stroke-width="0.35">14:30</text>
<text y="312.8" font-family="Liberation Sans, Arial, sans-serif" font-size="7" stroke="#000" stroke-width="0.35"><tspan x="276.43" textLength="15.6" lengthAdjust="spacingAndGlyphs">Start</tspan> <tspan x="297.33" textLength="13.5" lengthAdjust="spacingAndGlyphs">Time</tspan> <tspan x="315.23" textLength="40.6" lengthAdjust="spacingAndGlyphs">(15-Oct-03</tspan> <tspan x="360.83" textLength="30.6" lengthAdjust="spacingAndGlyphs">13:02:20)</tspan></text>
<text x="251.2" y="176.1" font-family="Liberation Sans, Arial, sans-serif" font-size="7" text-anchor="end" textLength="20.5" lengthAdjust="spacingAndGlyphs" stroke="#000" stroke-width="0.35">10000</text>
<text x="251.2" y="204.9" font-family="Liberation Sans, Arial, sans-serif" font-size="7" text-anchor="end" textLength="16.4" lengthAdjust="spacingAndGlyphs" stroke="#000" stroke-width="0.35">1000</text>
<text x="251.2" y="235.9" font-family="Liberation Sans, Arial, sans-serif" font-size="7" text-anchor="end" textLength="12.3" lengthAdjust="spacingAndGlyphs" stroke="#000" stroke-width="0.35">100</text>
<text x="251.2" y="266.9" font-family="Liberation Sans, Arial, sans-serif" font-size="7" text-anchor="end" textLength="8.2" lengthAdjust="spacingAndGlyphs" stroke="#000" stroke-width="0.35">10</text>
<text x="251.2" y="296" font-family="Liberation Sans, Arial, sans-serif" font-size="7" text-anchor="end" textLength="4.1" lengthAdjust="spacingAndGlyphs" stroke="#000" stroke-width="0.35">1</text>
<text transform="translate(225.73 233.7) rotate(-90)" font-family="Liberation Sans, Arial, sans-serif" font-size="7" text-anchor="middle" textLength="38.4" lengthAdjust="spacingAndGlyphs" stroke="#000" stroke-width="0.35">Counts/sec</text>
</g>
<g>
<rect x="467.5" y="171.5" width="161" height="124" fill="none" stroke="#000" stroke-width="1"/>
<path d="M471.5 295.5v-1.5M471.5 171.5v1.5M479.5 295.5v-1.5M479.5 171.5v1.5M487.5 295.5v-2.5M487.5 171.5v2.5M495.5 295.5v-1.5M495.5 171.5v1.5M503.5 295.5v-1.5M503.5 171.5v1.5M511.5 295.5v-2.5M511.5 171.5v2.5M519.5 295.5v-1.5M519.5 171.5v1.5M527.5 295.5v-1.5M527.5 171.5v1.5M536.5 295.5v-2.5M536.5 171.5v2.5M544.5 295.5v-1.5M544.5 171.5v1.5M552.5 295.5v-1.5M552.5 171.5v1.5M560.5 295.5v-2.5M560.5 171.5v2.5M568.5 295.5v-1.5M568.5 171.5v1.5M576.5 295.5v-1.5M576.5 171.5v1.5M584.5 295.5v-2.5M584.5 171.5v2.5M592.5 295.5v-1.5M592.5 171.5v1.5M600.5 295.5v-1.5M600.5 171.5v1.5M608.5 295.5v-2.5M608.5 171.5v2.5M616.5 295.5v-1.5M616.5 171.5v1.5M624.5 295.5v-1.5M624.5 171.5v1.5M467.5 193.5h2.5M628.5 193.5h-2.5M467.5 187.5h2.5M628.5 187.5h-2.5M467.5 183.5h2.5M628.5 183.5h-2.5M467.5 180.5h2.5M628.5 180.5h-2.5M467.5 178.5h2.5M628.5 178.5h-2.5M467.5 176.5h2.5M628.5 176.5h-2.5M467.5 174.5h2.5M628.5 174.5h-2.5M467.5 172.5h2.5M628.5 172.5h-2.5M467.5 202.5h3.7M628.5 202.5h-3.7M467.5 224.5h2.5M628.5 224.5h-2.5M467.5 218.5h2.5M628.5 218.5h-2.5M467.5 214.5h2.5M628.5 214.5h-2.5M467.5 211.5h2.5M628.5 211.5h-2.5M467.5 209.5h2.5M628.5 209.5h-2.5M467.5 207.5h2.5M628.5 207.5h-2.5M467.5 205.5h2.5M628.5 205.5h-2.5M467.5 203.5h2.5M628.5 203.5h-2.5M467.5 233.5h3.7M628.5 233.5h-3.7M467.5 255.5h2.5M628.5 255.5h-2.5M467.5 249.5h2.5M628.5 249.5h-2.5M467.5 245.5h2.5M628.5 245.5h-2.5M467.5 242.5h2.5M628.5 242.5h-2.5M467.5 240.5h2.5M628.5 240.5h-2.5M467.5 238.5h2.5M628.5 238.5h-2.5M467.5 236.5h2.5M628.5 236.5h-2.5M467.5 234.5h2.5M628.5 234.5h-2.5M467.5 264.5h3.7M628.5 264.5h-3.7M467.5 286.5h2.5M628.5 286.5h-2.5M467.5 280.5h2.5M628.5 280.5h-2.5M467.5 276.5h2.5M628.5 276.5h-2.5M467.5 273.5h2.5M628.5 273.5h-2.5M467.5 271.5h2.5M628.5 271.5h-2.5M467.5 269.5h2.5M628.5 269.5h-2.5M467.5 267.5h2.5M628.5 267.5h-2.5M467.5 265.5h2.5M628.5 265.5h-2.5" stroke="#000" stroke-width="1" fill="none"/>
<line x1="539.5" y1="295.5" x2="539.5" y2="171.5" stroke="#000" stroke-width="1.1" stroke-dasharray="7.1 6.95" stroke-dashoffset="6.6"/>
<line x1="577.5" y1="295.5" x2="577.5" y2="171.5" stroke="#000" stroke-width="1.1" stroke-dasharray="7.1 6.95" stroke-dashoffset="5.6"/>
<line x1="496.5" y1="295.5" x2="496.5" y2="171.5" stroke="#000" stroke-width="1" stroke-dasharray="1 3" stroke-dashoffset="1.5"/>
<line x1="593.5" y1="295.5" x2="593.5" y2="171.5" stroke="#000" stroke-width="1" stroke-dasharray="1 3" stroke-dashoffset="2.5"/>
<line x1="622.5" y1="295.5" x2="622.5" y2="171.5" stroke="#000" stroke-width="1" stroke-dasharray="1 3" stroke-dashoffset="3.5"/>
<polyline points="467,221.25 472,221.9 477.6,220 482,218.1 483,221.25 483.9,226.25 487,225 489.5,218.75 491.1,210 492,218.75 493.5,219.4 497,215.6 500.5,211.25 503.5,206.5 508.25,206.5 510.75,210.6 512.6,215.6 515.1,220 518.9,223.5 522.25,225 523.5,219.4 527,219.4 530.75,220.6 534.5,220 536.4,217.5 537.6,211.25 538.25,220 539,231" fill="none" stroke="#000" stroke-width="1" stroke-linejoin="round" shape-rendering="crispEdges"/>
<polyline points="580.25,220.6 581.25,214.4 582.75,213.75 584.6,218.1 589,219.75 593.4,220.25 595.5,222.25 596.75,216.9 599,216.25 602.1,218.1 604.6,220 622.75,220" fill="none" stroke="#000" stroke-width="1" stroke-linejoin="round" shape-rendering="crispEdges"/>
<polyline points="467,220.25 472,221 477,219.4 482,217.25 487,216 489.25,211.9 490.5,202.5 491.4,194.4 492,201.9 493,207.5 495.75,203.75 499.25,200.6 502,195 503.9,191.5 506,190.6 508.9,192.5 511,196.9 512.6,203.1 514.5,209.4 517,213.1 520.75,216 524.5,218.1 529.5,219.4 533.25,219 536,216.25 537.6,206.25 539.5,193.75 541.4,183.75 542.6,175 543.25,171.25" fill="none" stroke="#f00" stroke-width="1" stroke-linejoin="round" shape-rendering="crispEdges"/>
<polyline points="569,171.25 570.25,177.5 572.1,184.4 573.75,190 577.1,195.6 580.25,200.6 583.4,205 585.5,209.4 589,210.6 592.1,211.9 595.9,214 600.25,216.25 604,218.1 607.75,219 622.75,219" fill="none" stroke="#f00" stroke-width="1" stroke-linejoin="round" shape-rendering="crispEdges"/>
<text x="468.2" y="176.65" font-family="Liberation Sans, Arial, sans-serif" font-size="14.6" textLength="8.2" lengthAdjust="spacingAndGlyphs" fill="#000" stroke="#000" stroke-width="0.1">E</text>
<text x="539.5" y="176.65" font-family="Liberation Sans, Arial, sans-serif" font-size="14.6" textLength="8.2" lengthAdjust="spacingAndGlyphs" fill="#000" stroke="#000" stroke-width="0.1">S</text>
<text x="593.2" y="176.65" font-family="Liberation Sans, Arial, sans-serif" font-size="14.6" textLength="8.2" lengthAdjust="spacingAndGlyphs" fill="#000" stroke="#000" stroke-width="0.1">E</text>
<text y="167.6" font-family="Liberation Sans, Arial, sans-serif" font-size="8.1" stroke="#000" stroke-width="0.35"><tspan x="473.17" textLength="12.5" lengthAdjust="spacingAndGlyphs">Det</tspan> <tspan x="491.07" textLength="7.5" lengthAdjust="spacingAndGlyphs">6r</tspan> <tspan x="503.57" textLength="25" lengthAdjust="spacingAndGlyphs">BLACK</tspan> <tspan x="533.57" textLength="5.8" lengthAdjust="spacingAndGlyphs">=</tspan> <tspan x="543.57" textLength="29.4" lengthAdjust="spacingAndGlyphs">Events,</tspan> <tspan x="577.27" textLength="15" lengthAdjust="spacingAndGlyphs">RED</tspan> <tspan x="597.27" textLength="6.1" lengthAdjust="spacingAndGlyphs">=</tspan> <tspan x="608.57" textLength="13.7" lengthAdjust="spacingAndGlyphs">LLD</tspan></text>
<text x="487.5" y="305" font-family="Liberation Sans, Arial, sans-serif" font-size="7" text-anchor="middle" textLength="18" lengthAdjust="spacingAndGlyphs" stroke="#000" stroke-width="0.35">13:15</text>
<text x="511.5" y="305" font-family="Liberation Sans, Arial, sans-serif" font-size="7" text-anchor="middle" textLength="18" lengthAdjust="spacingAndGlyphs" stroke="#000" stroke-width="0.35">13:30</text>
<text x="536.5" y="305" font-family="Liberation Sans, Arial, sans-serif" font-size="7" text-anchor="middle" textLength="18" lengthAdjust="spacingAndGlyphs" stroke="#000" stroke-width="0.35">13:45</text>
<text x="560.5" y="305" font-family="Liberation Sans, Arial, sans-serif" font-size="7" text-anchor="middle" textLength="18" lengthAdjust="spacingAndGlyphs" stroke="#000" stroke-width="0.35">14:00</text>
<text x="584.5" y="305" font-family="Liberation Sans, Arial, sans-serif" font-size="7" text-anchor="middle" textLength="18" lengthAdjust="spacingAndGlyphs" stroke="#000" stroke-width="0.35">14:15</text>
<text x="608.5" y="305" font-family="Liberation Sans, Arial, sans-serif" font-size="7" text-anchor="middle" textLength="18" lengthAdjust="spacingAndGlyphs" stroke="#000" stroke-width="0.35">14:30</text>
<text y="312.8" font-family="Liberation Sans, Arial, sans-serif" font-size="7" stroke="#000" stroke-width="0.35"><tspan x="489.77" textLength="15.6" lengthAdjust="spacingAndGlyphs">Start</tspan> <tspan x="510.67" textLength="13.5" lengthAdjust="spacingAndGlyphs">Time</tspan> <tspan x="528.57" textLength="40.6" lengthAdjust="spacingAndGlyphs">(15-Oct-03</tspan> <tspan x="574.17" textLength="30.6" lengthAdjust="spacingAndGlyphs">13:02:20)</tspan></text>
<text x="465.2" y="176.1" font-family="Liberation Sans, Arial, sans-serif" font-size="7" text-anchor="end" textLength="20.5" lengthAdjust="spacingAndGlyphs" stroke="#000" stroke-width="0.35">10000</text>
<text x="465.2" y="204.9" font-family="Liberation Sans, Arial, sans-serif" font-size="7" text-anchor="end" textLength="16.4" lengthAdjust="spacingAndGlyphs" stroke="#000" stroke-width="0.35">1000</text>
<text x="465.2" y="235.9" font-family="Liberation Sans, Arial, sans-serif" font-size="7" text-anchor="end" textLength="12.3" lengthAdjust="spacingAndGlyphs" stroke="#000" stroke-width="0.35">100</text>
<text x="465.2" y="266.9" font-family="Liberation Sans, Arial, sans-serif" font-size="7" text-anchor="end" textLength="8.2" lengthAdjust="spacingAndGlyphs" stroke="#000" stroke-width="0.35">10</text>
<text x="465.2" y="296" font-family="Liberation Sans, Arial, sans-serif" font-size="7" text-anchor="end" textLength="4.1" lengthAdjust="spacingAndGlyphs" stroke="#000" stroke-width="0.35">1</text>
<text transform="translate(439.07 233.7) rotate(-90)" font-family="Liberation Sans, Arial, sans-serif" font-size="7" text-anchor="middle" textLength="38.4" lengthAdjust="spacingAndGlyphs" stroke="#000" stroke-width="0.35">Counts/sec</text>
</g>
<g>
<rect x="40.5" y="331.5" width="161" height="124" fill="none" stroke="#000" stroke-width="1"/>
<path d="M44.5 455.5v-1.5M44.5 331.5v1.5M52.5 455.5v-1.5M52.5 331.5v1.5M60.5 455.5v-2.5M60.5 331.5v2.5M69.5 455.5v-1.5M69.5 331.5v1.5M77.5 455.5v-1.5M77.5 331.5v1.5M85.5 455.5v-2.5M85.5 331.5v2.5M93.5 455.5v-1.5M93.5 331.5v1.5M101.5 455.5v-1.5M101.5 331.5v1.5M109.5 455.5v-2.5M109.5 331.5v2.5M117.5 455.5v-1.5M117.5 331.5v1.5M125.5 455.5v-1.5M125.5 331.5v1.5M133.5 455.5v-2.5M133.5 331.5v2.5M141.5 455.5v-1.5M141.5 331.5v1.5M149.5 455.5v-1.5M149.5 331.5v1.5M157.5 455.5v-2.5M157.5 331.5v2.5M165.5 455.5v-1.5M165.5 331.5v1.5M173.5 455.5v-1.5M173.5 331.5v1.5M181.5 455.5v-2.5M181.5 331.5v2.5M190.5 455.5v-1.5M190.5 331.5v1.5M198.5 455.5v-1.5M198.5 331.5v1.5M40.5 353.5h2.5M201.5 353.5h-2.5M40.5 347.5h2.5M201.5 347.5h-2.5M40.5 343.5h2.5M201.5 343.5h-2.5M40.5 340.5h2.5M201.5 340.5h-2.5M40.5 338.5h2.5M201.5 338.5h-2.5M40.5 336.5h2.5M201.5 336.5h-2.5M40.5 334.5h2.5M201.5 334.5h-2.5M40.5 332.5h2.5M201.5 332.5h-2.5M40.5 362.5h3.7M201.5 362.5h-3.7M40.5 384.5h2.5M201.5 384.5h-2.5M40.5 378.5h2.5M201.5 378.5h-2.5M40.5 374.5h2.5M201.5 374.5h-2.5M40.5 371.5h2.5M201.5 371.5h-2.5M40.5 369.5h2.5M201.5 369.5h-2.5M40.5 367.5h2.5M201.5 367.5h-2.5M40.5 365.5h2.5M201.5 365.5h-2.5M40.5 363.5h2.5M201.5 363.5h-2.5M40.5 393.5h3.7M201.5 393.5h-3.7M40.5 415.5h2.5M201.5 415.5h-2.5M40.5 409.5h2.5M201.5 409.5h-2.5M40.5 405.5h2.5M201.5 405.5h-2.5M40.5 402.5h2.5M201.5 402.5h-2.5M40.5 400.5h2.5M201.5 400.5h-2.5M40.5 398.5h2.5M201.5 398.5h-2.5M40.5 396.5h2.5M201.5 396.5h-2.5M40.5 394.5h2.5M201.5 394.5h-2.5M40.5 424.5h3.7M201.5 424.5h-3.7M40.5 446.5h2.5M201.5 446.5h-2.5M40.5 440.5h2.5M201.5 440.5h-2.5M40.5 436.5h2.5M201.5 436.5h-2.5M40.5 433.5h2.5M201.5 433.5h-2.5M40.5 431.5h2.5M201.5 431.5h-2.5M40.5 429.5h2.5M201.5 429.5h-2.5M40.5 427.5h2.5M201.5 427.5h-2.5M40.5 425.5h2.5M201.5 425.5h-2.5" stroke="#000" stroke-width="1" fill="none"/>
<line x1="112.5" y1="455.5" x2="112.5" y2="331.5" stroke="#000" stroke-width="1.1" stroke-dasharray="7.1 6.95" stroke-dashoffset="4.6"/>
<line x1="150.5" y1="455.5" x2="150.5" y2="331.5" stroke="#000" stroke-width="1.1" stroke-dasharray="7.1 6.95" stroke-dashoffset="3.6"/>
<line x1="69.5" y1="455.5" x2="69.5" y2="331.5" stroke="#000" stroke-width="1" stroke-dasharray="1 3" stroke-dashoffset="1.5"/>
<line x1="167.5" y1="455.5" x2="167.5" y2="331.5" stroke="#000" stroke-width="1" stroke-dasharray="1 3" stroke-dashoffset="2.5"/>
<line x1="195.5" y1="455.5" x2="195.5" y2="331.5" stroke="#000" stroke-width="1" stroke-dasharray="1 3" stroke-dashoffset="3.5"/>
<polyline points="40,383.1 46.25,383.5 51.25,381.9 55.6,380.6 56.25,383.75 57.25,386.9 60.6,385.6 63.1,382.5 64.6,376.25 65.5,380.6 66.5,381.5 70,379.4 73.1,377.25 75.6,373.1 77.5,371.5 80.6,371 83.1,372.5 85.6,375.6 88.1,379.4 91.9,382.5 95.25,384.75 96.5,380.6 98.1,380 101.25,381.9 105,382.5 108.1,381.9 110,378.75 111,373.75 111.5,380 112,391" fill="none" stroke="#000" stroke-width="1" stroke-linejoin="round" shape-rendering="crispEdges"/>
<polyline points="153.25,382.5 154.25,377.5 155.1,375.6 157.6,377.5 162,379 166.4,380.25 169.25,381.5 170.1,377.25 172,377.5 175.1,379.4 178.9,381.5 184.5,382.25 195.75,381.9" fill="none" stroke="#000" stroke-width="1" stroke-linejoin="round" shape-rendering="crispEdges"/>
<polyline points="40,381.5 46.25,381.9 51.25,380.6 56.25,379 60.6,377.25 63.1,373.1 64,367.5 64.5,363.1 65.25,367.5 66.25,372.5 69.4,370 72.5,367.5 75,362.5 77.25,359.4 80,358.5 83.1,360 85.25,363.1 87.25,368.75 89.4,373.1 93.75,376 97.5,378.75 101.25,380.6 105,381.5 108.1,381 109.75,377.5 111,367.5 112.75,355 114.75,343.75 116.5,333.75 117,331.25" fill="none" stroke="#f00" stroke-width="1" stroke-linejoin="round" shape-rendering="crispEdges"/>
<polyline points="140.1,331.25 141.75,336.25 143.25,343.75 145.1,352.5 147,356.9 150.1,360.6 152.6,364.4 156.4,367.25 158.9,370.25 163.25,371.25 167,373.75 171.4,375.6 175.75,378.1 179.5,380.25 183.25,381.25 195.75,381.25" fill="none" stroke="#f00" stroke-width="1" stroke-linejoin="round" shape-rendering="crispEdges"/>
<text x="41.2" y="336.65" font-family="Liberation Sans, Arial, sans-serif" font-size="14.6" textLength="8.2" lengthAdjust="spacingAndGlyphs" fill="#000" stroke="#000" stroke-width="0.1">E</text>
<text x="112.5" y="336.65" font-family="Liberation Sans, Arial, sans-serif" font-size="14.6" textLength="8.2" lengthAdjust="spacingAndGlyphs" fill="#000" stroke="#000" stroke-width="0.1">S</text>
<text x="167.2" y="336.65" font-family="Liberation Sans, Arial, sans-serif" font-size="14.6" textLength="8.2" lengthAdjust="spacingAndGlyphs" fill="#000" stroke="#000" stroke-width="0.1">E</text>
<text y="327.6" font-family="Liberation Sans, Arial, sans-serif" font-size="8.1" stroke="#000" stroke-width="0.35"><tspan x="46.5" textLength="12.5" lengthAdjust="spacingAndGlyphs">Det</tspan> <tspan x="64.4" textLength="7.5" lengthAdjust="spacingAndGlyphs">7r</tspan> <tspan x="76.9" textLength="25" lengthAdjust="spacingAndGlyphs">BLACK</tspan> <tspan x="106.9" textLength="5.8" lengthAdjust="spacingAndGlyphs">=</tspan> <tspan x="116.9" textLength="29.4" lengthAdjust="spacingAndGlyphs">Events,</tspan> <tspan x="150.6" textLength="15" lengthAdjust="spacingAndGlyphs">RED</tspan> <tspan x="170.6" textLength="6.1" lengthAdjust="spacingAndGlyphs">=</tspan> <tspan x="181.9" textLength="13.7" lengthAdjust="spacingAndGlyphs">LLD</tspan></text>
<text x="60.5" y="465" font-family="Liberation Sans, Arial, sans-serif" font-size="7" text-anchor="middle" textLength="18" lengthAdjust="spacingAndGlyphs" stroke="#000" stroke-width="0.35">13:15</text>
<text x="85.5" y="465" font-family="Liberation Sans, Arial, sans-serif" font-size="7" text-anchor="middle" textLength="18" lengthAdjust="spacingAndGlyphs" stroke="#000" stroke-width="0.35">13:30</text>
<text x="109.5" y="465" font-family="Liberation Sans, Arial, sans-serif" font-size="7" text-anchor="middle" textLength="18" lengthAdjust="spacingAndGlyphs" stroke="#000" stroke-width="0.35">13:45</text>
<text x="133.5" y="465" font-family="Liberation Sans, Arial, sans-serif" font-size="7" text-anchor="middle" textLength="18" lengthAdjust="spacingAndGlyphs" stroke="#000" stroke-width="0.35">14:00</text>
<text x="157.5" y="465" font-family="Liberation Sans, Arial, sans-serif" font-size="7" text-anchor="middle" textLength="18" lengthAdjust="spacingAndGlyphs" stroke="#000" stroke-width="0.35">14:15</text>
<text x="181.5" y="465" font-family="Liberation Sans, Arial, sans-serif" font-size="7" text-anchor="middle" textLength="18" lengthAdjust="spacingAndGlyphs" stroke="#000" stroke-width="0.35">14:30</text>
<text y="472.8" font-family="Liberation Sans, Arial, sans-serif" font-size="7" stroke="#000" stroke-width="0.35"><tspan x="63.1" textLength="15.6" lengthAdjust="spacingAndGlyphs">Start</tspan> <tspan x="84" textLength="13.5" lengthAdjust="spacingAndGlyphs">Time</tspan> <tspan x="101.9" textLength="40.6" lengthAdjust="spacingAndGlyphs">(15-Oct-03</tspan> <tspan x="147.5" textLength="30.6" lengthAdjust="spacingAndGlyphs">13:02:20)</tspan></text>
<text x="38.2" y="336.1" font-family="Liberation Sans, Arial, sans-serif" font-size="7" text-anchor="end" textLength="20.5" lengthAdjust="spacingAndGlyphs" stroke="#000" stroke-width="0.35">10000</text>
<text x="38.2" y="364.9" font-family="Liberation Sans, Arial, sans-serif" font-size="7" text-anchor="end" textLength="16.4" lengthAdjust="spacingAndGlyphs" stroke="#000" stroke-width="0.35">1000</text>
<text x="38.2" y="395.9" font-family="Liberation Sans, Arial, sans-serif" font-size="7" text-anchor="end" textLength="12.3" lengthAdjust="spacingAndGlyphs" stroke="#000" stroke-width="0.35">100</text>
<text x="38.2" y="426.9" font-family="Liberation Sans, Arial, sans-serif" font-size="7" text-anchor="end" textLength="8.2" lengthAdjust="spacingAndGlyphs" stroke="#000" stroke-width="0.35">10</text>
<text x="38.2" y="456" font-family="Liberation Sans, Arial, sans-serif" font-size="7" text-anchor="end" textLength="4.1" lengthAdjust="spacingAndGlyphs" stroke="#000" stroke-width="0.35">1</text>
<text transform="translate(12.4 393.7) rotate(-90)" font-family="Liberation Sans, Arial, sans-serif" font-size="7" text-anchor="middle" textLength="38.4" lengthAdjust="spacingAndGlyphs" stroke="#000" stroke-width="0.35">Counts/sec</text>
</g>
<g>
<rect x="253.5" y="331.5" width="162" height="124" fill="none" stroke="#000" stroke-width="1"/>
<path d="M258.5 455.5v-1.5M258.5 331.5v1.5M266.5 455.5v-1.5M266.5 331.5v1.5M274.5 455.5v-2.5M274.5 331.5v2.5M282.5 455.5v-1.5M282.5 331.5v1.5M290.5 455.5v-1.5M290.5 331.5v1.5M298.5 455.5v-2.5M298.5 331.5v2.5M306.5 455.5v-1.5M306.5 331.5v1.5M314.5 455.5v-1.5M314.5 331.5v1.5M322.5 455.5v-2.5M322.5 331.5v2.5M330.5 455.5v-1.5M330.5 331.5v1.5M338.5 455.5v-1.5M338.5 331.5v1.5M346.5 455.5v-2.5M346.5 331.5v2.5M354.5 455.5v-1.5M354.5 331.5v1.5M363.5 455.5v-1.5M363.5 331.5v1.5M371.5 455.5v-2.5M371.5 331.5v2.5M379.5 455.5v-1.5M379.5 331.5v1.5M387.5 455.5v-1.5M387.5 331.5v1.5M395.5 455.5v-2.5M395.5 331.5v2.5M403.5 455.5v-1.5M403.5 331.5v1.5M411.5 455.5v-1.5M411.5 331.5v1.5M253.5 353.5h2.5M415.5 353.5h-2.5M253.5 347.5h2.5M415.5 347.5h-2.5M253.5 343.5h2.5M415.5 343.5h-2.5M253.5 340.5h2.5M415.5 340.5h-2.5M253.5 338.5h2.5M415.5 338.5h-2.5M253.5 336.5h2.5M415.5 336.5h-2.5M253.5 334.5h2.5M415.5 334.5h-2.5M253.5 332.5h2.5M415.5 332.5h-2.5M253.5 362.5h3.7M415.5 362.5h-3.7M253.5 384.5h2.5M415.5 384.5h-2.5M253.5 378.5h2.5M415.5 378.5h-2.5M253.5 374.5h2.5M415.5 374.5h-2.5M253.5 371.5h2.5M415.5 371.5h-2.5M253.5 369.5h2.5M415.5 369.5h-2.5M253.5 367.5h2.5M415.5 367.5h-2.5M253.5 365.5h2.5M415.5 365.5h-2.5M253.5 363.5h2.5M415.5 363.5h-2.5M253.5 393.5h3.7M415.5 393.5h-3.7M253.5 415.5h2.5M415.5 415.5h-2.5M253.5 409.5h2.5M415.5 409.5h-2.5M253.5 405.5h2.5M415.5 405.5h-2.5M253.5 402.5h2.5M415.5 402.5h-2.5M253.5 400.5h2.5M415.5 400.5h-2.5M253.5 398.5h2.5M415.5 398.5h-2.5M253.5 396.5h2.5M415.5 396.5h-2.5M253.5 394.5h2.5M415.5 394.5h-2.5M253.5 424.5h3.7M415.5 424.5h-3.7M253.5 446.5h2.5M415.5 446.5h-2.5M253.5 440.5h2.5M415.5 440.5h-2.5M253.5 436.5h2.5M415.5 436.5h-2.5M253.5 433.5h2.5M415.5 433.5h-2.5M253.5 431.5h2.5M415.5 431.5h-2.5M253.5 429.5h2.5M415.5 429.5h-2.5M253.5 427.5h2.5M415.5 427.5h-2.5M253.5 425.5h2.5M415.5 425.5h-2.5" stroke="#000" stroke-width="1" fill="none"/>
<line x1="325.5" y1="455.5" x2="325.5" y2="331.5" stroke="#000" stroke-width="1.1" stroke-dasharray="7.1 6.95" stroke-dashoffset="2.6"/>
<line x1="363.5" y1="455.5" x2="363.5" y2="331.5" stroke="#000" stroke-width="1.1" stroke-dasharray="7.1 6.95" stroke-dashoffset="1.6"/>
<line x1="282.5" y1="455.5" x2="282.5" y2="331.5" stroke="#000" stroke-width="1" stroke-dasharray="1 3" stroke-dashoffset="1.5"/>
<line x1="380.5" y1="455.5" x2="380.5" y2="331.5" stroke="#000" stroke-width="1" stroke-dasharray="1 3" stroke-dashoffset="2.5"/>
<line x1="409.5" y1="455.5" x2="409.5" y2="331.5" stroke="#000" stroke-width="1" stroke-dasharray="1 3" stroke-dashoffset="3.5"/>
<polyline points="253,381.25 258,381 264.25,379.75 268.25,377.75 269,380 269.9,385.6 271.75,386.25 274.9,383.75 276.75,377.5 278.4,370 279.25,378.75 280.25,380 282.4,376.25 285.75,373.75 288.6,370.6 291.1,368.75 296.75,369 299,373.1 301.1,379.4 303.6,385.6 306.75,389.4 308.6,390.6 309.9,385 311.1,380 315.5,379.75 321.1,379.4 323.25,376.25 324.6,368.75 325.1,380 325.5,391" fill="none" stroke="#000" stroke-width="1" stroke-linejoin="round" shape-rendering="crispEdges"/>
<polyline points="367.25,380.6 367.75,373.75 369.75,374.75 371.9,377.75 376.9,379.75 381.9,381 383.1,375.6 385.6,376.9 389.4,378.1 393.1,380 409.4,379.75" fill="none" stroke="#000" stroke-width="1" stroke-linejoin="round" shape-rendering="crispEdges"/>
<polyline points="253,380.6 258,380 263.6,378.75 268,376.9 273.6,375 275.75,371.25 277,363.1 278.4,354.4 279,362.5 279.9,367.25 282.4,363.1 285.5,360 288.6,355.6 290.5,353.75 296.1,353.75 298.6,356.9 300.5,363.75 302.4,371.25 304.25,376.9 307.4,380 310.5,381.25 311.75,378.75 315.5,379 320.5,378.75 323,375 324.5,363.75 326.1,352.5 328,345 329.5,336.25 330.25,331.25" fill="none" stroke="#f00" stroke-width="1" stroke-linejoin="round" shape-rendering="crispEdges"/>
<polyline points="356.25,331.25 357.5,337.5 359.4,347.5 361.9,351.9 364.4,356.25 367.5,361.9 370,363.75 371.9,369 376.9,370.25 381.25,373.1 385,374.75 390,377.25 393.75,378.5 409.4,378.5" fill="none" stroke="#f00" stroke-width="1" stroke-linejoin="round" shape-rendering="crispEdges"/>
<text x="254.2" y="336.65" font-family="Liberation Sans, Arial, sans-serif" font-size="14.6" textLength="8.2" lengthAdjust="spacingAndGlyphs" fill="#000" stroke="#000" stroke-width="0.1">E</text>
<text x="325.5" y="336.65" font-family="Liberation Sans, Arial, sans-serif" font-size="14.6" textLength="8.2" lengthAdjust="spacingAndGlyphs" fill="#000" stroke="#000" stroke-width="0.1">S</text>
<text x="380.2" y="336.65" font-family="Liberation Sans, Arial, sans-serif" font-size="14.6" textLength="8.2" lengthAdjust="spacingAndGlyphs" fill="#000" stroke="#000" stroke-width="0.1">E</text>
<text y="327.6" font-family="Liberation Sans, Arial, sans-serif" font-size="8.1" stroke="#000" stroke-width="0.35"><tspan x="259.83" textLength="12.5" lengthAdjust="spacingAndGlyphs">Det</tspan> <tspan x="277.73" textLength="7.5" lengthAdjust="spacingAndGlyphs">8r</tspan> <tspan x="290.23" textLength="25" lengthAdjust="spacingAndGlyphs">BLACK</tspan> <tspan x="320.23" textLength="5.8" lengthAdjust="spacingAndGlyphs">=</tspan> <tspan x="330.23" textLength="29.4" lengthAdjust="spacingAndGlyphs">Events,</tspan> <tspan x="363.93" textLength="15" lengthAdjust="spacingAndGlyphs">RED</tspan> <tspan x="383.93" textLength="6.1" lengthAdjust="spacingAndGlyphs">=</tspan> <tspan x="395.23" textLength="13.7" lengthAdjust="spacingAndGlyphs">LLD</tspan></text>
<text x="274.5" y="465" font-family="Liberation Sans, Arial, sans-serif" font-size="7" text-anchor="middle" textLength="18" lengthAdjust="spacingAndGlyphs" stroke="#000" stroke-width="0.35">13:15</text>
<text x="298.5" y="465" font-family="Liberation Sans, Arial, sans-serif" font-size="7" text-anchor="middle" textLength="18" lengthAdjust="spacingAndGlyphs" stroke="#000" stroke-width="0.35">13:30</text>
<text x="322.5" y="465" font-family="Liberation Sans, Arial, sans-serif" font-size="7" text-anchor="middle" textLength="18" lengthAdjust="spacingAndGlyphs" stroke="#000" stroke-width="0.35">13:45</text>
<text x="346.5" y="465" font-family="Liberation Sans, Arial, sans-serif" font-size="7" text-anchor="middle" textLength="18" lengthAdjust="spacingAndGlyphs" stroke="#000" stroke-width="0.35">14:00</text>
<text x="371.5" y="465" font-family="Liberation Sans, Arial, sans-serif" font-size="7" text-anchor="middle" textLength="18" lengthAdjust="spacingAndGlyphs" stroke="#000" stroke-width="0.35">14:15</text>
<text x="395.5" y="465" font-family="Liberation Sans, Arial, sans-serif" font-size="7" text-anchor="middle" textLength="18" lengthAdjust="spacingAndGlyphs" stroke="#000" stroke-width="0.35">14:30</text>
<text y="472.8" font-family="Liberation Sans, Arial, sans-serif" font-size="7" stroke="#000" stroke-width="0.35"><tspan x="276.43" textLength="15.6" lengthAdjust="spacingAndGlyphs">Start</tspan> <tspan x="297.33" textLength="13.5" lengthAdjust="spacingAndGlyphs">Time</tspan> <tspan x="315.23" textLength="40.6" lengthAdjust="spacingAndGlyphs">(15-Oct-03</tspan> <tspan x="360.83" textLength="30.6" lengthAdjust="spacingAndGlyphs">13:02:20)</tspan></text>
<text x="251.2" y="336.1" font-family="Liberation Sans, Arial, sans-serif" font-size="7" text-anchor="end" textLength="20.5" lengthAdjust="spacingAndGlyphs" stroke="#000" stroke-width="0.35">10000</text>
<text x="251.2" y="364.9" font-family="Liberation Sans, Arial, sans-serif" font-size="7" text-anchor="end" textLength="16.4" lengthAdjust="spacingAndGlyphs" stroke="#000" stroke-width="0.35">1000</text>
<text x="251.2" y="395.9" font-family="Liberation Sans, Arial, sans-serif" font-size="7" text-anchor="end" textLength="12.3" lengthAdjust="spacingAndGlyphs" stroke="#000" stroke-width="0.35">100</text>
<text x="251.2" y="426.9" font-family="Liberation Sans, Arial, sans-serif" font-size="7" text-anchor="end" textLength="8.2" lengthAdjust="spacingAndGlyphs" stroke="#000" stroke-width="0.35">10</text>
<text x="251.2" y="456" font-family="Liberation Sans, Arial, sans-serif" font-size="7" text-anchor="end" textLength="4.1" lengthAdjust="spacingAndGlyphs" stroke="#000" stroke-width="0.35">1</text>
<text transform="translate(225.73 393.7) rotate(-90)" font-family="Liberation Sans, Arial, sans-serif" font-size="7" text-anchor="middle" textLength="38.4" lengthAdjust="spacingAndGlyphs" stroke="#000" stroke-width="0.35">Counts/sec</text>
</g>
<g>
<rect x="467.5" y="331.5" width="161" height="124" fill="none" stroke="#000" stroke-width="1"/>
<path d="M471.5 455.5v-1.5M471.5 331.5v1.5M479.5 455.5v-1.5M479.5 331.5v1.5M487.5 455.5v-2.5M487.5 331.5v2.5M495.5 455.5v-1.5M495.5 331.5v1.5M503.5 455.5v-1.5M503.5 331.5v1.5M511.5 455.5v-2.5M511.5 331.5v2.5M519.5 455.5v-1.5M519.5 331.5v1.5M527.5 455.5v-1.5M527.5 331.5v1.5M536.5 455.5v-2.5M536.5 331.5v2.5M544.5 455.5v-1.5M544.5 331.5v1.5M552.5 455.5v-1.5M552.5 331.5v1.5M560.5 455.5v-2.5M560.5 331.5v2.5M568.5 455.5v-1.5M568.5 331.5v1.5M576.5 455.5v-1.5M576.5 331.5v1.5M584.5 455.5v-2.5M584.5 331.5v2.5M592.5 455.5v-1.5M592.5 331.5v1.5M600.5 455.5v-1.5M600.5 331.5v1.5M608.5 455.5v-2.5M608.5 331.5v2.5M616.5 455.5v-1.5M616.5 331.5v1.5M624.5 455.5v-1.5M624.5 331.5v1.5M467.5 353.5h2.5M628.5 353.5h-2.5M467.5 347.5h2.5M628.5 347.5h-2.5M467.5 343.5h2.5M628.5 343.5h-2.5M467.5 340.5h2.5M628.5 340.5h-2.5M467.5 338.5h2.5M628.5 338.5h-2.5M467.5 336.5h2.5M628.5 336.5h-2.5M467.5 334.5h2.5M628.5 334.5h-2.5M467.5 332.5h2.5M628.5 332.5h-2.5M467.5 362.5h3.7M628.5 362.5h-3.7M467.5 384.5h2.5M628.5 384.5h-2.5M467.5 378.5h2.5M628.5 378.5h-2.5M467.5 374.5h2.5M628.5 374.5h-2.5M467.5 371.5h2.5M628.5 371.5h-2.5M467.5 369.5h2.5M628.5 369.5h-2.5M467.5 367.5h2.5M628.5 367.5h-2.5M467.5 365.5h2.5M628.5 365.5h-2.5M467.5 363.5h2.5M628.5 363.5h-2.5M467.5 393.5h3.7M628.5 393.5h-3.7M467.5 415.5h2.5M628.5 415.5h-2.5M467.5 409.5h2.5M628.5 409.5h-2.5M467.5 405.5h2.5M628.5 405.5h-2.5M467.5 402.5h2.5M628.5 402.5h-2.5M467.5 400.5h2.5M628.5 400.5h-2.5M467.5 398.5h2.5M628.5 398.5h-2.5M467.5 396.5h2.5M628.5 396.5h-2.5M467.5 394.5h2.5M628.5 394.5h-2.5M467.5 424.5h3.7M628.5 424.5h-3.7M467.5 446.5h2.5M628.5 446.5h-2.5M467.5 440.5h2.5M628.5 440.5h-2.5M467.5 436.5h2.5M628.5 436.5h-2.5M467.5 433.5h2.5M628.5 433.5h-2.5M467.5 431.5h2.5M628.5 431.5h-2.5M467.5 429.5h2.5M628.5 429.5h-2.5M467.5 427.5h2.5M628.5 427.5h-2.5M467.5 425.5h2.5M628.5 425.5h-2.5" stroke="#000" stroke-width="1" fill="none"/>
<line x1="539.5" y1="455.5" x2="539.5" y2="331.5" stroke="#000" stroke-width="1.1" stroke-dasharray="7.1 6.95" stroke-dashoffset="0.6"/>
<line x1="577.5" y1="455.5" x2="577.5" y2="331.5" stroke="#000" stroke-width="1.1" stroke-dasharray="7.1 6.95" stroke-dashoffset="13.65"/>
<line x1="496.5" y1="455.5" x2="496.5" y2="331.5" stroke="#000" stroke-width="1" stroke-dasharray="1 3" stroke-dashoffset="1.5"/>
<line x1="593.5" y1="455.5" x2="593.5" y2="331.5" stroke="#000" stroke-width="1" stroke-dasharray="1 3" stroke-dashoffset="2.5"/>
<line x1="622.5" y1="455.5" x2="622.5" y2="331.5" stroke="#000" stroke-width="1" stroke-dasharray="1 3" stroke-dashoffset="3.5"/>
<polyline points="467,381 474.5,380.6 479.5,379.4 482.25,378.1 483.25,382.5 484.5,385 487,384.75 489.5,379.4 491.25,370 492.25,378.1 493.5,379 497,375.6 500.5,371.25 503.5,366 508.25,366 510.75,370 512.6,375 515.1,379.75 518.9,383.1 522,384.75 523.5,379.4 527,379.4 530.75,380 534.5,379.75 536.4,377.25 537.6,371.25 538.25,380 539,391" fill="none" stroke="#000" stroke-width="1" stroke-linejoin="round" shape-rendering="crispEdges"/>
<polyline points="580.25,380.6 581.25,374.4 582.75,373.75 584.6,377.75 589,379 593.4,380.6 595.5,381.9 596.75,376.25 599,376.5 602.1,377.75 604.6,379.75 622.75,379.75" fill="none" stroke="#000" stroke-width="1" stroke-linejoin="round" shape-rendering="crispEdges"/>
<polyline points="467,380 473.25,380 478.25,378.5 483.25,376.5 487.6,375.25 489.5,370.6 490.5,361.25 491.4,353.1 492,361.25 493,367.25 495.75,363.75 499.25,360 502,354.4 503.9,350.6 506.4,350 508.9,351.5 511,355.6 512.6,361.9 514.5,368.1 517,372.5 520.75,376 524.5,378.1 529.5,379 533.25,378.75 536,376.25 537.6,366.25 539.5,353.75 541.4,343.75 542.6,335 543.25,331.25" fill="none" stroke="#f00" stroke-width="1" stroke-linejoin="round" shape-rendering="crispEdges"/>
<polyline points="569,331.25 570.5,337.5 572.1,344.4 573.75,350 577.1,356.25 580.25,360.6 583,363.75 585.25,369 589.6,370.25 593.4,371.9 597.1,374.4 601.5,376.5 605.25,378.5 622.75,378.75" fill="none" stroke="#f00" stroke-width="1" stroke-linejoin="round" shape-rendering="crispEdges"/>
<text x="468.2" y="336.65" font-family="Liberation Sans, Arial, sans-serif" font-size="14.6" textLength="8.2" lengthAdjust="spacingAndGlyphs" fill="#000" stroke="#000" stroke-width="0.1">E</text>
<text x="539.5" y="336.65" font-family="Liberation Sans, Arial, sans-serif" font-size="14.6" textLength="8.2" lengthAdjust="spacingAndGlyphs" fill="#000" stroke="#000" stroke-width="0.1">S</text>
<text x="593.2" y="336.65" font-family="Liberation Sans, Arial, sans-serif" font-size="14.6" textLength="8.2" lengthAdjust="spacingAndGlyphs" fill="#000" stroke="#000" stroke-width="0.1">E</text>
<text y="327.6" font-family="Liberation Sans, Arial, sans-serif" font-size="8.1" stroke="#000" stroke-width="0.35"><tspan x="473.17" textLength="12.5" lengthAdjust="spacingAndGlyphs">Det</tspan> <tspan x="491.07" textLength="7.5" lengthAdjust="spacingAndGlyphs">9r</tspan> <tspan x="503.57" textLength="25" lengthAdjust="spacingAndGlyphs">BLACK</tspan> <tspan x="533.57" textLength="5.8" lengthAdjust="spacingAndGlyphs">=</tspan> <tspan x="543.57" textLength="29.4" lengthAdjust="spacingAndGlyphs">Events,</tspan> <tspan x="577.27" textLength="15" lengthAdjust="spacingAndGlyphs">RED</tspan> <tspan x="597.27" textLength="6.1" lengthAdjust="spacingAndGlyphs">=</tspan> <tspan x="608.57" textLength="13.7" lengthAdjust="spacingAndGlyphs">LLD</tspan></text>
<text x="487.5" y="465" font-family="Liberation Sans, Arial, sans-serif" font-size="7" text-anchor="middle" textLength="18" lengthAdjust="spacingAndGlyphs" stroke="#000" stroke-width="0.35">13:15</text>
<text x="511.5" y="465" font-family="Liberation Sans, Arial, sans-serif" font-size="7" text-anchor="middle" textLength="18" lengthAdjust="spacingAndGlyphs" stroke="#000" stroke-width="0.35">13:30</text>
<text x="536.5" y="465" font-family="Liberation Sans, Arial, sans-serif" font-size="7" text-anchor="middle" textLength="18" lengthAdjust="spacingAndGlyphs" stroke="#000" stroke-width="0.35">13:45</text>
<text x="560.5" y="465" font-family="Liberation Sans, Arial, sans-serif" font-size="7" text-anchor="middle" textLength="18" lengthAdjust="spacingAndGlyphs" stroke="#000" stroke-width="0.35">14:00</text>
<text x="584.5" y="465" font-family="Liberation Sans, Arial, sans-serif" font-size="7" text-anchor="middle" textLength="18" lengthAdjust="spacingAndGlyphs" stroke="#000" stroke-width="0.35">14:15</text>
<text x="608.5" y="465" font-family="Liberation Sans, Arial, sans-serif" font-size="7" text-anchor="middle" textLength="18" lengthAdjust="spacingAndGlyphs" stroke="#000" stroke-width="0.35">14:30</text>
<text y="472.8" font-family="Liberation Sans, Arial, sans-serif" font-size="7" stroke="#000" stroke-width="0.35"><tspan x="489.77" textLength="15.6" lengthAdjust="spacingAndGlyphs">Start</tspan> <tspan x="510.67" textLength="13.5" lengthAdjust="spacingAndGlyphs">Time</tspan> <tspan x="528.57" textLength="40.6" lengthAdjust="spacingAndGlyphs">(15-Oct-03</tspan> <tspan x="574.17" textLength="30.6" lengthAdjust="spacingAndGlyphs">13:02:20)</tspan></text>
<text x="465.2" y="336.1" font-family="Liberation Sans, Arial, sans-serif" font-size="7" text-anchor="end" textLength="20.5" lengthAdjust="spacingAndGlyphs" stroke="#000" stroke-width="0.35">10000</text>
<text x="465.2" y="364.9" font-family="Liberation Sans, Arial, sans-serif" font-size="7" text-anchor="end" textLength="16.4" lengthAdjust="spacingAndGlyphs" stroke="#000" stroke-width="0.35">1000</text>
<text x="465.2" y="395.9" font-family="Liberation Sans, Arial, sans-serif" font-size="7" text-anchor="end" textLength="12.3" lengthAdjust="spacingAndGlyphs" stroke="#000" stroke-width="0.35">100</text>
<text x="465.2" y="426.9" font-family="Liberation Sans, Arial, sans-serif" font-size="7" text-anchor="end" textLength="8.2" lengthAdjust="spacingAndGlyphs" stroke="#000" stroke-width="0.35">10</text>
<text x="465.2" y="456" font-family="Liberation Sans, Arial, sans-serif" font-size="7" text-anchor="end" textLength="4.1" lengthAdjust="spacingAndGlyphs" stroke="#000" stroke-width="0.35">1</text>
<text transform="translate(439.07 393.7) rotate(-90)" font-family="Liberation Sans, Arial, sans-serif" font-size="7" text-anchor="middle" textLength="38.4" lengthAdjust="spacingAndGlyphs" stroke="#000" stroke-width="0.35">Counts/sec</text>
</g>
</svg>
</body></html>
